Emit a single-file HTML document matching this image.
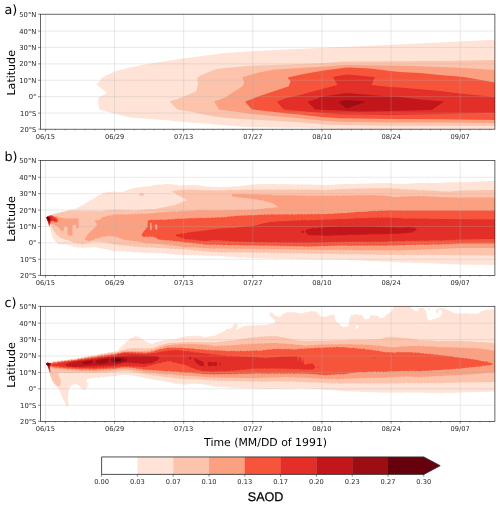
<!DOCTYPE html><html><head><meta charset="utf-8"><title>SAOD</title><style>html,body{margin:0;padding:0;background:#fff}svg{display:block;will-change:transform;opacity:0.999}text{text-rendering:geometricPrecision;font-family:"DejaVu Sans","Liberation Sans",sans-serif;fill:#262626}.t{font-size:6.7px}.lb{font-size:11.05px;fill:#000}.pl{font-size:12.8px;fill:#000}.ty{font-size:6.8px}</style></head><body>
<svg width="500" height="506" viewBox="0 0 500 506">
<rect width="500" height="506" fill="#fff"/>
<clipPath id="c0"><rect x="40.35" y="14.20" width="454.55" height="115.00"/></clipPath>
<g clip-path="url(#c0)">
<path d="M96.4 84.6L103.0 77.0L116.0 71.0L130.0 67.4L150.0 63.4L170.0 60.4L190.0 57.4L200.0 56.2L225.0 53.0L252.5 51.2L287.5 49.5L325.0 47.8L375.0 45.6L400.0 44.6L440.0 42.6L480.0 40.6L496.0 39.8L496.0 131.0L350.0 131.0L340.0 129.0L321.6 128.6L300.0 127.5L290.0 127.8L250.0 127.0L240.0 126.6L220.0 125.0L200.0 123.0L190.0 122.6L170.0 120.6L150.0 119.0L130.0 117.6L114.4 113.4L99.4 109.6L98.0 103.0L98.4 97.4L107.0 93.0Z" fill="#fee3d6"/>
<path d="M169.6 101.5L183.0 97.0L196.2 91.2L198.0 85.0L197.4 77.3L207.5 72.5L217.5 68.8L250.0 65.8L287.5 64.4L325.0 63.0L345.0 61.6L387.5 61.3L425.0 61.0L440.0 61.0L480.0 60.2L496.0 60.0L496.0 125.7L440.0 125.8L390.0 125.7L340.0 125.0L321.6 124.2L300.0 122.2L290.0 121.8L270.0 120.6L250.0 119.4L240.0 119.0L224.0 117.8L212.0 116.2L200.0 113.8L190.0 111.4L177.2 109.4Z" fill="#fcc4ad"/>
<path d="M214.2 101.6L225.0 97.5L242.5 86.2L244.3 82.0L242.2 77.3L258.8 72.5L275.0 69.5L300.0 68.0L325.0 66.5L345.0 64.9L387.5 65.4L412.5 66.0L440.0 67.0L460.0 67.8L480.0 69.0L496.0 70.0L496.0 123.0L440.0 122.6L390.0 122.4L340.0 121.8L321.6 120.6L300.0 118.2L290.0 117.4L270.0 115.8L250.0 113.8L240.0 112.2L218.8 109.4Z" fill="#fca082"/>
<path d="M245.0 101.8L258.8 96.2L288.8 86.2L290.5 81.2L287.5 77.5L305.0 73.8L325.0 70.3L345.0 67.8L350.0 67.5L370.0 68.6L390.0 71.0L400.0 72.0L420.0 73.0L440.0 75.0L464.0 77.0L496.0 82.6L496.0 120.0L440.0 119.2L390.0 119.1L360.0 118.4L340.0 118.2L321.6 117.0L300.0 114.6L290.0 113.8L270.0 111.4L252.0 109.4Z" fill="#f6553c"/>
<path d="M276.8 101.8L286.2 98.0L300.0 95.0L320.0 89.5L337.4 85.0L332.9 76.9L346.5 74.6L375.0 77.0L371.4 85.0L390.0 87.0L400.0 87.4L440.0 91.0L460.0 93.6L496.0 97.2L496.0 113.0L485.0 113.1L440.0 114.0L390.0 114.9L360.0 114.6L340.0 114.2L321.6 113.0L300.0 111.0L290.0 110.2L283.6 109.4Z" fill="#e32f27"/>
<path d="M307.6 101.8L317.5 98.8L320.0 97.1L340.0 94.0L346.0 93.0L370.0 95.0L390.0 96.5L400.0 97.0L420.0 99.4L444.0 101.6L432.0 109.7L420.0 110.2L390.0 111.0L360.0 111.4L340.0 110.6L315.2 109.4Z" fill="#c2161b"/>
<path d="M338.4 101.9L345.0 100.1L366.4 101.5L346.6 108.6Z" fill="#9d0d14"/>
</g>
<path d="M45.40 14.20V129.20M114.53 14.20V129.20M183.67 14.20V129.20M252.80 14.20V129.20M321.93 14.20V129.20M391.07 14.20V129.20M460.20 14.20V129.20M40.35 113.05H494.90M40.35 96.65H494.90M40.35 80.25H494.90M40.35 63.85H494.90M40.35 47.45H494.90M40.35 31.05H494.90" stroke="#b0b0b0" stroke-opacity="0.5" stroke-width="0.55" fill="none"/>
<path d="M45.40 129.20v2.3M114.53 129.20v2.3M183.67 129.20v2.3M252.80 129.20v2.3M321.93 129.20v2.3M391.07 129.20v2.3M460.20 129.20v2.3M40.35 129.20h-2.3M40.35 113.05h-2.3M40.35 96.65h-2.3M40.35 80.25h-2.3M40.35 63.85h-2.3M40.35 47.45h-2.3M40.35 31.05h-2.3M40.35 14.20h-2.3" stroke="#262626" stroke-width="0.55" fill="none"/>
<path d="M55.28 129.20v1.2M65.15 129.20v1.2M75.03 129.20v1.2M84.90 129.20v1.2M94.78 129.20v1.2M104.66 129.20v1.2M124.41 129.20v1.2M134.29 129.20v1.2M144.16 129.20v1.2M154.04 129.20v1.2M163.91 129.20v1.2M173.79 129.20v1.2M193.54 129.20v1.2M203.42 129.20v1.2M213.30 129.20v1.2M223.17 129.20v1.2M233.05 129.20v1.2M242.92 129.20v1.2M262.68 129.20v1.2M272.55 129.20v1.2M282.43 129.20v1.2M292.30 129.20v1.2M302.18 129.20v1.2M312.06 129.20v1.2M331.81 129.20v1.2M341.69 129.20v1.2M351.56 129.20v1.2M361.44 129.20v1.2M371.31 129.20v1.2M381.19 129.20v1.2M400.94 129.20v1.2M410.82 129.20v1.2M420.70 129.20v1.2M430.57 129.20v1.2M440.45 129.20v1.2M450.32 129.20v1.2M470.08 129.20v1.2M479.95 129.20v1.2M489.83 129.20v1.2" stroke="#262626" stroke-width="0.4" fill="none"/>
<rect x="40.35" y="14.20" width="454.55" height="115.00" fill="none" stroke="#262626" stroke-width="0.7"/>
<text class="ty" x="36.45" y="132.00" text-anchor="end">20°S</text>
<text class="ty" x="36.45" y="116.00" text-anchor="end">10°S</text>
<text class="ty" x="36.45" y="99.00" text-anchor="end">0°</text>
<text class="ty" x="36.45" y="83.00" text-anchor="end">10°N</text>
<text class="ty" x="36.45" y="66.00" text-anchor="end">20°N</text>
<text class="ty" x="36.45" y="50.00" text-anchor="end">30°N</text>
<text class="ty" x="36.45" y="34.00" text-anchor="end">40°N</text>
<text class="ty" x="36.45" y="17.00" text-anchor="end">50°N</text>
<text class="t" x="45.40" y="139.20" text-anchor="middle">06/15</text>
<text class="t" x="114.53" y="139.20" text-anchor="middle">06/29</text>
<text class="t" x="183.67" y="139.20" text-anchor="middle">07/13</text>
<text class="t" x="252.80" y="139.20" text-anchor="middle">07/27</text>
<text class="t" x="321.93" y="139.20" text-anchor="middle">08/10</text>
<text class="t" x="391.07" y="139.20" text-anchor="middle">08/24</text>
<text class="t" x="460.20" y="139.20" text-anchor="middle">09/07</text>
<text class="lb" transform="translate(15.30 72.80) rotate(-90)" text-anchor="middle">Latitude</text>
<text class="pl" x="4.4" y="14.40">a)</text>
<clipPath id="c1"><rect x="40.35" y="160.45" width="454.55" height="114.95"/></clipPath>
<g clip-path="url(#c1)">
<path d="M46.0 217.0L47.5 216.6L49.0 215.5L50.5 215.4L52.0 214.2L53.5 214.0L55.0 213.0L56.7 212.9L58.3 212.2L60.0 212.3L61.7 211.5L63.3 211.6L65.0 211.0L66.7 210.8L68.3 210.1L70.0 210.3L71.7 209.2L73.3 209.5L75.0 209.0L76.6 208.4L78.2 207.0L79.8 207.1L81.4 205.5L83.0 205.0L84.6 204.3L86.2 202.5L87.8 202.2L89.4 200.6L91.0 200.0L92.6 199.3L94.2 197.8L95.8 197.2L97.4 195.7L99.0 195.0L100.8 194.7L102.5 193.3L104.2 193.1L106.0 192.0L107.6 192.3L109.2 191.6L110.8 192.1L112.4 191.5L114.0 191.6L115.6 191.9L117.2 191.5L118.8 192.2L120.4 191.6L122.0 192.0L123.6 191.7L125.2 190.5L126.8 190.5L128.4 189.3L130.0 189.0L131.7 189.1L133.3 187.9L135.0 188.2L136.7 187.3L138.3 187.7L140.0 187.0L141.7 187.3L143.3 186.3L145.0 186.8L146.7 185.9L148.3 186.4L150.0 186.0L151.7 186.0L153.3 185.1L155.0 185.4L156.7 184.6L158.3 184.8L160.0 184.4L161.7 184.7L163.3 183.9L165.0 184.5L166.7 183.7L168.3 184.3L170.0 184.0L171.7 184.6L173.3 184.1L175.0 185.0L176.7 184.6L178.3 185.6L180.0 185.4L181.7 185.8L183.3 185.0L185.0 185.2L186.8 185.5L188.7 184.9L190.5 185.4L192.3 184.6L194.2 185.3L196.0 184.8L197.7 185.5L199.3 185.1L201.0 186.0L202.7 185.6L204.3 186.5L206.0 186.6L207.8 187.0L209.5 186.5L211.2 186.9L213.0 186.6L214.8 187.3L216.5 186.7L218.2 187.2L220.0 187.0L221.7 187.2L223.3 186.4L225.0 187.0L226.7 186.4L228.3 187.0L230.0 186.6L231.7 186.9L233.3 186.0L235.0 186.7L236.7 186.0L238.3 186.4L240.0 186.0L241.7 186.0L243.3 185.1L245.0 185.8L246.7 184.9L248.3 185.0L250.0 184.6L251.7 184.8L253.3 184.2L255.0 184.7L256.7 183.9L258.3 184.4L260.0 184.1L261.7 184.3L263.3 183.8L265.0 184.3L266.7 183.7L268.3 184.5L270.0 183.7L271.7 184.3L273.3 183.7L275.0 184.0L276.7 184.4L278.3 183.9L280.0 184.5L281.7 183.7L283.3 184.6L285.0 183.8L286.7 184.5L288.3 184.0L290.0 184.5L291.7 184.0L293.3 184.5L295.0 184.4L296.7 184.6L298.3 184.2L300.0 184.7L301.7 184.2L303.3 184.7L305.0 184.3L306.7 184.7L308.3 184.3L310.0 184.8L311.7 184.4L313.3 185.0L315.0 184.6L316.7 185.0L318.3 184.5L320.0 185.0L321.7 184.6L323.3 185.2L325.0 185.0L326.7 185.1L328.3 184.4L330.0 185.2L331.7 184.4L333.3 184.9L335.0 184.3L336.7 184.6L338.3 184.1L340.0 184.5L341.7 183.7L343.3 184.3L345.0 184.0L346.7 184.1L348.3 183.5L350.0 184.2L351.7 183.7L353.3 184.2L355.0 183.6L356.7 184.1L358.3 183.3L360.0 184.1L361.7 183.3L363.3 183.9L365.0 183.6L366.7 183.8L368.3 183.3L370.0 183.9L371.7 183.1L373.3 183.8L375.0 183.0L376.7 183.5L378.3 182.8L380.0 183.6L381.7 182.7L383.3 183.5L385.0 183.0L386.7 183.5L388.3 182.8L390.0 183.6L391.7 183.1L393.3 183.8L395.0 183.5L396.7 183.9L398.3 183.6L400.0 184.0L401.7 184.2L403.3 183.5L405.0 184.2L406.7 183.4L408.3 184.0L410.0 183.0L411.7 183.9L413.3 183.1L415.0 183.5L416.7 182.9L418.3 183.3L420.0 183.0L421.7 183.2L423.3 182.6L425.0 183.4L426.7 182.6L428.3 183.3L430.0 182.6L431.7 183.4L433.3 182.8L435.0 183.4L436.7 182.5L438.3 183.4L440.0 183.0L441.7 183.3L443.3 182.5L445.0 183.0L446.7 182.3L448.3 182.8L450.0 182.1L451.7 182.9L453.3 182.0L455.0 182.5L456.7 181.7L458.3 182.5L460.0 182.0L496.0 181.0L496.0 265.0L460.0 264.4L458.3 264.5L456.7 264.1L455.0 264.4L453.3 263.7L451.7 264.5L450.0 263.8L448.3 264.4L446.7 263.4L445.0 264.2L443.3 263.5L441.7 264.0L440.0 263.6L438.3 263.7L436.7 263.3L435.0 263.9L433.3 263.0L431.7 263.6L430.0 262.8L428.3 263.5L426.7 262.7L425.0 263.5L423.3 262.8L421.7 263.2L420.0 262.7L418.3 263.1L416.7 262.5L415.0 263.0L413.3 262.4L411.7 262.8L410.0 262.1L408.3 262.8L406.7 262.2L405.0 262.4L403.3 262.7L401.7 261.8L400.0 262.5L398.3 261.7L396.7 262.4L395.0 261.7L393.3 262.3L391.7 261.7L390.0 262.1L388.3 261.5L386.7 261.8L385.0 261.6L383.4 261.9L381.8 261.2L380.2 261.7L378.6 260.9L377.0 261.6L375.4 260.9L373.8 261.4L372.2 260.7L370.6 261.4L369.0 260.7L367.4 261.1L365.8 260.5L364.2 260.9L362.6 260.2L361.0 260.8L359.4 260.1L357.8 260.8L356.2 259.9L354.6 260.5L353.0 259.8L351.4 260.4L349.8 259.7L348.2 260.3L346.6 259.6L345.0 259.8L343.4 260.1L341.8 259.4L340.2 260.2L338.6 259.3L337.0 260.1L335.4 259.2L333.8 259.9L332.2 259.3L330.6 260.0L329.0 259.1L327.4 259.7L325.8 259.3L324.2 259.8L322.6 259.3L321.0 259.7L319.4 259.2L317.8 259.8L316.2 259.0L314.6 259.8L313.0 259.1L311.4 259.7L309.8 258.9L308.2 259.5L306.6 258.8L305.0 259.2L303.4 259.6L301.8 258.9L300.2 259.6L298.6 258.8L297.0 259.4L295.4 258.5L293.8 259.4L292.1 258.7L290.5 259.2L288.9 258.6L287.3 259.1L285.7 258.6L284.1 259.0L282.5 258.4L280.9 258.9L279.3 258.3L277.7 259.0L276.1 258.5L274.5 258.9L272.9 258.2L271.2 258.8L269.6 258.3L268.0 258.9L266.4 258.0L264.8 258.9L263.2 258.2L261.6 258.6L260.0 258.3L258.3 258.4L256.7 257.7L255.0 258.3L253.3 257.8L251.7 258.2L250.0 257.4L248.3 258.2L246.7 257.5L245.0 257.8L243.3 257.1L241.7 257.8L240.0 257.4L238.3 257.7L236.7 257.0L235.0 257.2L233.3 256.5L231.7 257.1L230.0 256.5L228.3 257.0L226.7 256.0L225.0 256.7L223.3 256.0L221.7 256.5L220.0 255.9L218.3 256.1L216.6 255.4L214.9 256.2L213.1 255.6L211.4 256.2L209.7 255.4L208.0 255.8L206.3 256.0L204.6 255.5L202.9 256.0L201.1 255.3L199.4 255.7L197.7 255.2L196.0 255.4L194.3 255.5L192.6 255.1L190.9 255.5L189.1 254.9L187.4 255.5L185.7 254.8L184.0 255.0L182.3 255.2L180.6 254.6L178.9 254.9L177.1 254.4L175.4 254.7L173.7 254.1L172.0 254.2L170.3 254.5L168.6 253.6L166.9 254.0L165.1 253.3L163.4 253.9L161.7 253.1L160.0 253.2L158.3 253.6L156.6 252.8L154.9 253.4L153.1 252.7L151.4 253.3L149.7 252.7L148.0 253.0L146.3 253.3L144.6 252.3L142.9 252.9L141.1 252.1L139.4 252.8L137.7 252.0L136.0 252.2L134.3 252.4L132.6 251.8L130.9 252.1L129.1 251.7L127.4 252.0L125.7 251.3L124.0 251.6L122.4 251.7L120.8 251.1L119.2 251.4L117.6 250.6L116.0 251.4L114.4 250.8L112.5 250.9L110.6 249.9L108.8 250.1L106.9 249.3L105.0 249.2L103.3 249.1L101.7 248.3L100.0 248.4L98.3 247.5L96.7 247.8L95.0 247.0L93.3 247.6L91.6 247.0L89.9 247.7L88.1 247.1L86.4 248.0L84.7 247.6L83.0 248.0L81.4 248.0L79.8 247.3L78.2 247.7L76.6 246.9L75.0 247.0L73.3 246.7L71.7 245.7L70.0 245.7L68.3 244.8L66.7 244.7L65.0 244.0L63.0 244.4L61.0 244.1L59.0 244.4L57.7 243.4L56.3 241.9L55.0 241.0L52.0 236.0L50.0 228.0L47.5 221.0Z" fill="#fee3d6"/>
<path d="M46.5 217.0L48.2 216.6L49.9 215.5L51.6 215.5L53.3 214.2L55.0 214.0L56.6 214.0L58.2 212.8L59.8 213.2L61.4 212.1L63.0 212.0L64.6 211.9L66.2 210.9L67.8 211.2L69.4 210.3L71.0 210.4L72.8 210.8L74.5 210.4L76.2 211.1L78.0 210.3L79.8 211.1L81.5 210.5L83.2 211.3L85.0 211.0L86.6 211.2L88.2 210.7L89.8 211.3L91.4 210.6L93.0 211.4L94.6 210.6L96.2 211.3L97.8 210.6L99.4 211.4L101.0 211.0L102.8 211.2L104.5 210.4L106.2 210.6L108.0 210.1L109.8 210.4L111.5 209.8L113.2 210.2L115.0 209.6L116.7 210.0L118.3 209.4L120.0 210.2L121.7 209.5L123.3 210.2L125.0 209.8L126.7 210.5L128.3 209.7L130.0 210.5L131.7 209.9L133.3 210.7L135.0 210.4L136.7 210.5L138.3 209.8L140.0 210.3L141.7 209.7L143.3 210.1L145.0 209.3L146.7 209.8L148.3 209.1L150.0 209.8L151.7 208.9L153.3 209.4L155.0 209.0L156.7 209.0L158.3 208.0L160.0 208.4L161.7 207.3L163.3 207.7L165.0 206.8L166.7 206.9L168.3 206.1L170.0 206.4L171.7 205.4L173.3 205.7L175.0 205.0L176.5 204.5L178.0 203.6L179.5 203.4L181.0 202.1L182.5 202.3L184.0 200.9L185.5 200.9L187.0 200.0L185.5 199.5L184.1 198.1L182.6 197.9L181.2 196.5L179.7 196.4L178.3 194.9L176.8 194.7L175.4 193.0L173.9 192.8L172.5 191.5L171.0 191.0L172.8 191.2L174.5 190.2L176.2 190.8L178.0 190.1L179.8 190.4L181.5 189.5L183.2 190.0L185.0 189.6L186.7 190.0L188.3 189.5L190.0 190.0L191.7 189.3L193.3 190.0L195.0 189.4L196.7 190.2L198.3 189.4L200.0 190.3L201.7 189.7L203.3 190.4L205.0 190.0L206.7 190.4L208.3 190.0L210.0 190.4L211.7 189.9L213.3 190.6L215.0 190.4L216.7 190.6L218.3 190.1L220.0 190.6L221.7 190.0L223.3 190.7L225.0 190.0L226.7 190.6L228.3 189.7L230.0 190.3L231.7 189.6L233.3 190.4L235.0 190.0L236.7 190.4L238.3 189.7L240.0 190.2L241.7 189.6L243.3 190.3L245.0 189.5L246.7 190.0L248.3 189.4L250.0 189.9L251.7 189.5L253.3 189.8L255.0 189.6L256.7 190.0L258.3 189.3L260.0 190.1L261.7 189.4L263.3 189.8L265.0 189.3L266.7 189.8L268.3 189.3L270.0 190.1L271.7 189.2L273.3 190.0L275.0 189.6L276.7 190.0L278.3 189.1L280.0 190.1L281.7 189.3L283.3 190.0L285.0 189.4L286.7 190.0L288.3 189.3L290.0 190.0L291.7 189.2L293.3 189.9L295.0 189.4L296.7 190.1L298.3 189.4L300.0 189.9L301.7 189.3L303.3 189.9L305.0 189.6L306.7 190.0L308.3 189.2L310.0 189.9L311.7 189.4L313.3 190.0L315.0 189.5L316.7 190.1L318.3 189.7L320.0 190.1L321.7 189.7L323.3 190.4L325.0 190.0L326.7 190.2L328.3 189.6L330.0 190.2L331.7 189.2L333.3 189.9L335.0 189.3L336.7 189.6L338.3 189.1L340.0 189.5L341.7 189.0L343.3 189.3L345.0 189.0L346.7 189.2L348.3 188.6L350.0 189.3L351.7 188.4L353.3 189.0L355.0 188.4L356.7 189.0L358.3 188.3L360.0 188.8L361.7 188.3L363.3 188.7L365.0 188.4L366.7 188.8L368.3 188.1L370.0 188.6L371.7 187.9L373.3 188.7L375.0 188.0L376.7 188.4L378.3 187.9L380.0 188.4L381.7 187.8L383.3 188.5L385.0 188.0L386.7 188.5L388.3 187.8L390.0 188.5L391.7 188.3L393.3 188.9L395.0 188.2L396.7 189.1L398.3 188.5L400.0 189.0L401.7 189.2L403.3 188.9L405.0 189.7L406.7 188.9L408.3 189.9L410.0 189.0L411.7 189.8L413.3 189.5L415.0 190.0L416.7 189.5L418.3 190.3L420.0 190.0L421.7 190.5L423.3 189.8L425.0 190.6L426.7 189.9L428.3 190.7L430.0 190.2L431.7 190.8L433.3 190.3L435.0 191.0L436.7 190.4L438.3 191.3L440.0 191.0L441.7 191.4L443.3 191.0L445.0 191.5L446.7 191.0L448.3 191.9L450.0 191.6L451.7 191.6L453.3 191.0L455.0 191.3L456.7 190.5L458.3 190.9L460.0 190.4L496.0 190.0L496.0 255.6L440.0 255.0L438.3 255.2L436.7 254.6L435.0 255.2L433.3 254.7L431.7 255.3L430.0 254.5L428.3 255.4L426.7 254.6L425.0 255.3L423.3 254.8L421.7 255.2L420.0 254.5L418.3 255.4L416.7 254.7L415.0 255.2L413.3 254.7L411.7 255.4L410.0 254.7L408.3 255.2L406.7 254.6L405.0 255.0L403.3 255.4L401.7 254.7L400.0 255.1L398.3 254.7L396.7 255.2L395.0 254.5L393.3 255.1L391.7 254.5L390.0 255.2L388.3 254.5L386.7 255.0L385.0 254.8L383.4 255.2L381.8 254.5L380.2 255.2L378.6 254.5L377.0 254.9L375.4 254.3L373.8 254.9L372.2 254.1L370.6 254.9L369.0 254.3L367.4 254.8L365.8 254.2L364.2 254.9L362.6 254.0L361.0 254.6L359.4 254.1L357.8 254.6L356.2 253.9L354.6 254.5L353.0 254.1L351.4 254.5L349.8 254.0L348.2 254.7L346.6 253.8L345.0 254.2L343.4 254.6L341.8 253.7L340.2 254.6L338.6 253.8L337.0 254.3L335.4 253.5L333.8 254.4L332.2 253.8L330.6 254.3L329.0 253.6L327.4 254.1L325.8 253.5L324.2 254.0L322.6 253.6L321.0 254.0L319.4 253.4L317.8 254.1L316.2 253.4L314.6 254.1L313.0 253.3L311.4 253.8L309.8 253.1L308.2 253.9L306.6 253.1L305.0 253.4L303.4 253.6L301.8 253.0L300.2 253.6L298.6 252.8L297.0 253.5L295.4 253.0L293.8 253.7L292.2 253.0L290.6 253.5L289.0 252.7L287.4 253.5L285.8 252.9L284.2 253.3L282.6 252.9L281.0 253.5L279.4 252.8L277.8 253.4L276.2 252.5L274.6 253.2L273.0 252.7L271.4 253.4L269.8 252.5L268.2 253.1L266.6 252.4L265.0 252.8L263.3 253.0L261.7 252.5L260.0 252.9L258.3 252.3L256.7 253.1L255.0 252.3L253.3 253.1L251.7 252.4L250.0 252.8L248.3 252.2L246.7 253.0L245.0 252.0L243.3 252.7L241.7 252.2L240.0 252.4L238.3 252.7L236.7 252.1L235.0 252.9L233.3 252.2L231.7 252.8L230.0 252.0L228.3 252.8L226.7 252.0L225.0 252.8L223.3 252.1L221.7 252.7L220.0 252.4L218.3 252.6L216.6 251.8L214.9 252.2L213.1 251.7L211.4 252.2L209.7 251.5L208.0 251.6L206.3 251.6L204.6 251.1L202.9 251.4L201.1 250.7L199.4 251.2L197.7 250.1L196.0 250.4L194.3 250.7L192.6 249.9L190.9 250.2L189.1 249.6L187.4 250.0L185.7 249.2L184.0 249.4L182.3 249.6L180.6 249.1L178.9 249.5L177.1 248.8L175.4 249.5L173.7 248.7L172.0 249.0L170.3 249.3L168.6 248.3L166.9 248.8L165.1 248.0L163.4 248.5L161.7 247.8L160.0 248.0L158.3 248.2L156.6 247.4L154.9 248.0L153.1 247.4L151.4 247.8L149.7 247.3L148.0 247.4L146.3 247.8L144.6 246.9L142.9 247.4L141.1 246.8L139.4 247.4L137.7 246.6L136.0 246.8L134.3 246.9L132.6 246.0L130.9 246.7L129.1 245.6L127.4 246.1L125.7 245.5L124.0 245.6L122.4 245.8L120.8 244.7L119.2 245.4L117.6 244.6L116.0 244.8L114.4 244.3L112.7 244.2L111.1 243.4L109.4 243.8L107.7 242.6L106.0 243.1L104.3 242.0L102.7 242.4L101.0 241.6L99.3 242.0L97.7 241.5L96.0 242.2L94.3 241.4L92.7 242.1L91.0 242.0L89.4 242.8L87.8 242.6L86.2 243.7L84.6 243.6L83.0 244.4L81.4 244.3L79.8 243.6L78.2 243.8L76.6 242.9L75.0 243.0L73.4 242.8L71.8 241.6L70.2 241.4L68.6 240.3L67.0 240.0L65.0 239.7L63.0 238.4L61.0 238.0L59.7 237.3L58.3 235.8L57.0 235.0L56.0 234.2L55.0 232.2L54.0 231.4L53.0 230.0L50.0 223.0L48.0 220.0Z" fill="#fcc4ad"/>
<path d="M139.0 193.5L141.5 192.9L144.0 193.7L144.0 195.5L141.5 196.1L139.4 195.5Z" fill="#fcc4ad"/>
<path d="M47.0 216.0L48.7 215.9L50.3 215.2L52.0 215.2L54.0 216.0L56.0 215.8L58.0 216.6L60.0 217.4L62.0 217.6L64.0 218.4L65.6 218.8L67.2 218.1L68.8 218.7L70.4 218.1L72.0 218.9L73.6 218.1L75.2 218.7L76.8 218.1L78.4 218.4L78.4 228.5L76.5 228.5L76.0 224.5L74.2 225.0L72.5 225.0L72.5 235.5L70.8 235.9L69.2 235.0L67.5 235.5L67.5 227.0L65.0 226.0L63.0 231.5L61.5 231.0L60.4 230.0L59.2 228.3L58.1 227.6L57.0 226.0L55.2 225.5L53.5 224.3L51.8 224.2L50.0 223.0L48.0 220.0Z" fill="#fca082"/>
<path d="M84.6 239.6L88.0 234.0L89.2 233.0L90.5 231.1L91.8 230.5L93.0 229.0L94.3 228.1L95.7 226.0L97.0 225.0L94.6 220.0L96.8 220.2L99.0 220.0L100.3 219.2L101.7 217.7L103.0 217.0L104.7 217.0L106.4 215.8L108.1 216.1L109.9 215.2L111.6 215.4L113.3 214.5L115.0 214.4L116.7 214.6L118.3 214.1L120.0 214.7L121.7 213.9L123.3 214.6L125.0 214.4L126.7 214.7L128.3 213.8L130.0 214.7L131.7 213.9L133.3 214.3L135.0 213.5L136.7 214.4L138.3 213.6L140.0 214.0L141.7 213.3L143.3 214.0L145.0 213.6L146.7 213.9L148.3 213.0L150.0 213.6L151.7 212.9L153.3 213.3L155.0 212.6L156.7 213.0L158.3 212.1L160.0 212.8L161.7 212.0L163.3 212.4L165.0 212.0L166.7 212.2L168.3 211.5L170.0 212.0L171.7 211.5L173.3 211.8L175.0 211.1L176.7 211.9L178.3 211.2L180.0 211.6L181.7 210.8L183.3 211.3L185.0 211.0L186.7 211.3L188.3 210.6L190.0 211.1L191.7 210.3L193.3 210.9L195.0 210.2L196.7 210.7L198.3 210.0L200.0 210.5L201.7 209.8L203.3 210.4L205.0 210.0L206.7 210.4L208.3 210.0L210.0 210.6L211.7 210.0L213.3 210.6L215.0 210.4L216.7 210.8L218.3 209.9L220.0 210.6L221.7 210.0L223.3 210.5L225.0 210.0L226.7 210.4L228.3 209.8L230.0 210.3L231.7 209.8L233.3 210.4L235.0 210.0L236.7 210.1L238.3 209.6L240.0 210.1L241.7 209.5L243.3 210.2L245.0 209.5L246.7 209.9L248.3 209.4L250.0 210.0L251.7 209.2L253.3 209.8L255.0 209.6L256.7 209.8L258.4 208.7L260.1 209.4L261.7 208.4L263.4 208.9L265.1 208.0L266.8 208.6L268.5 207.6L270.2 208.4L271.9 207.5L273.5 208.0L275.2 206.9L276.9 207.4L278.6 207.0L277.2 206.5L275.7 205.0L274.3 204.8L272.9 203.4L271.4 203.2L270.0 202.2L268.3 202.3L266.7 201.3L265.0 201.4L263.3 200.3L261.7 200.6L260.0 200.0L258.3 200.0L256.7 199.2L255.0 199.6L253.3 198.9L251.7 199.1L250.0 198.6L248.3 198.6L246.7 197.7L245.0 198.4L243.3 197.4L241.7 197.8L240.0 197.4L238.2 197.6L236.3 196.7L234.4 197.0L232.6 196.4L231.5 195.2L232.4 194.1L234.0 194.5L235.6 193.8L237.2 194.6L238.9 193.8L240.5 194.5L242.1 193.7L243.7 194.3L245.3 193.7L246.9 194.5L248.5 193.9L250.2 194.6L251.8 193.9L253.4 194.7L255.0 194.2L256.7 194.6L258.3 194.1L260.0 194.8L261.7 194.2L263.3 194.7L265.0 194.2L266.7 194.8L268.3 194.3L270.0 195.0L271.7 194.5L273.3 195.4L275.0 195.0L276.7 195.4L278.3 194.7L280.0 195.4L281.7 195.0L283.3 195.3L285.0 195.0L286.7 195.6L288.3 195.0L290.0 195.6L291.7 194.9L293.3 195.6L295.0 195.2L296.7 195.8L298.3 195.3L300.0 195.7L301.7 195.3L303.3 195.8L305.0 195.6L306.6 195.9L308.2 195.4L309.8 195.9L311.4 195.3L313.0 195.8L314.6 195.2L316.2 195.9L317.8 195.4L319.4 196.1L321.0 195.4L322.6 195.8L324.2 195.4L325.8 196.0L327.4 195.2L329.0 196.0L330.6 195.3L332.2 195.8L333.8 195.4L335.4 196.0L337.0 195.3L338.6 195.9L340.2 195.2L341.8 195.9L343.4 195.1L345.0 195.6L346.7 195.9L348.3 195.3L350.0 195.9L351.7 195.2L353.3 195.7L355.0 195.0L356.7 195.5L358.3 195.0L360.0 195.6L361.7 194.9L363.3 195.4L365.0 195.0L366.7 195.5L368.3 194.9L370.0 195.4L371.7 194.8L373.3 195.6L375.0 194.9L376.7 195.8L378.3 195.2L380.0 195.7L381.7 195.2L383.3 195.7L385.0 195.6L386.7 196.3L388.3 195.7L390.0 196.7L391.7 196.4L393.3 197.2L395.0 197.0L396.7 197.3L398.3 196.5L400.0 197.1L401.7 196.3L403.3 196.7L405.0 196.4L406.7 196.5L408.3 196.1L410.0 196.4L411.7 196.0L413.3 196.6L415.0 195.8L416.7 196.5L418.3 195.7L420.0 196.0L421.7 196.3L423.3 195.8L425.0 196.5L426.7 195.9L428.3 196.7L430.0 196.3L431.7 196.9L433.3 196.2L435.0 197.0L436.7 196.4L438.3 197.1L440.0 197.0L441.7 197.3L443.3 196.9L445.0 197.5L446.7 196.7L448.3 197.6L450.0 197.0L451.7 197.8L453.3 197.1L455.0 197.7L456.7 197.0L458.3 197.9L460.0 197.6L496.0 197.6L496.0 248.0L460.0 248.0L458.3 248.5L456.7 247.8L455.0 248.7L453.3 248.0L451.7 248.8L450.0 248.1L448.3 249.0L446.7 248.4L445.0 249.1L443.3 248.5L441.7 249.2L440.0 249.0L438.4 249.3L436.8 248.8L435.2 249.4L433.6 248.8L432.0 249.5L430.4 249.2L428.8 249.6L427.2 249.0L425.6 249.8L424.0 249.4L422.4 249.8L420.8 249.5L419.2 250.1L417.6 249.4L416.0 250.2L414.4 249.5L412.8 250.1L411.2 249.7L409.6 250.3L408.0 249.7L406.4 250.6L404.8 249.8L403.2 250.5L401.6 249.9L400.0 250.4L398.4 250.8L396.8 249.9L395.1 250.6L393.5 250.1L391.9 250.5L390.3 250.2L388.7 250.7L387.1 249.9L385.4 250.7L383.8 249.9L382.2 250.6L380.6 250.0L379.0 250.4L377.4 250.0L375.7 250.6L374.1 250.0L372.5 250.5L370.9 249.9L369.3 250.3L367.6 249.9L366.0 250.4L364.4 249.8L362.8 250.4L361.2 249.9L359.6 250.6L357.9 249.8L356.3 250.5L354.7 249.7L353.1 250.2L351.5 249.8L349.9 250.3L348.2 249.6L346.6 250.3L345.0 250.0L343.4 250.4L341.8 249.6L340.2 250.2L338.6 249.5L337.0 250.1L335.4 249.5L333.8 250.1L332.2 249.7L330.6 250.1L329.0 249.4L327.4 250.3L325.8 249.6L324.2 250.1L322.6 249.5L321.0 250.2L319.4 249.5L317.8 250.0L316.2 249.4L314.6 250.1L313.0 249.4L311.4 250.1L309.8 249.4L308.2 249.9L306.6 249.2L305.0 249.6L303.4 249.9L301.8 249.4L300.2 249.9L298.6 249.3L297.0 249.9L295.4 249.1L293.8 249.8L292.2 249.0L290.6 249.7L289.0 249.1L287.4 249.6L285.8 248.9L284.2 249.5L282.6 248.8L281.0 249.4L279.4 249.0L277.8 249.4L276.2 248.7L274.6 249.5L273.0 248.8L271.4 249.5L269.8 248.8L268.2 249.4L266.6 248.7L265.0 249.0L263.4 249.4L261.8 248.6L260.2 249.3L258.5 248.7L256.9 249.2L255.3 248.7L253.7 249.3L252.1 248.5L250.5 249.2L248.9 248.6L247.3 249.1L245.6 248.4L244.0 249.1L242.4 248.5L240.8 249.0L239.2 248.2L237.6 248.9L236.0 248.4L234.4 248.9L232.7 248.2L231.1 249.0L229.5 248.4L227.9 248.8L226.3 248.3L224.7 248.8L223.1 248.2L221.5 248.7L219.8 248.2L218.2 248.7L216.6 247.9L215.0 248.4L213.3 248.7L211.7 248.1L210.0 248.7L208.3 247.9L206.7 248.3L205.0 248.0L203.3 248.4L201.7 247.4L200.0 248.1L198.3 247.4L196.7 247.8L195.0 247.1L193.3 247.6L191.7 247.1L190.0 247.5L188.3 247.0L186.7 247.4L185.0 247.0L183.3 247.2L181.7 246.2L180.0 246.7L178.3 245.8L176.7 246.2L175.0 245.5L173.3 245.8L171.7 245.0L170.0 245.4L168.3 244.4L166.7 244.9L165.0 244.4L163.3 244.6L161.7 243.8L160.0 244.3L158.3 243.7L156.7 244.2L155.0 243.3L153.3 244.0L151.7 243.1L150.0 243.8L148.3 242.9L146.7 243.5L145.0 243.0L143.3 243.0L141.7 242.1L140.0 242.4L138.3 241.5L136.7 241.6L135.0 241.0L133.3 241.2L131.7 240.3L130.0 240.9L128.3 240.1L126.7 240.5L125.0 240.0L123.3 239.7L121.7 238.5L120.0 238.6L118.3 237.4L116.7 237.6L115.0 236.6L113.4 236.7L111.8 236.0L110.2 236.6L108.6 235.8L107.0 236.0L105.4 236.7L103.8 236.3L102.2 237.4L100.6 237.3L99.0 238.0L97.3 238.7L95.7 238.6L94.0 240.0L92.3 239.7L90.7 240.7L89.0 241.0L86.8 240.6Z" fill="#fca082"/>
<path d="M148.0 220.0L149.7 220.3L151.4 219.5L153.1 220.2L154.8 219.5L156.5 220.2L158.2 219.4L159.9 220.0L161.6 219.2L163.3 219.9L165.0 219.6L166.7 219.9L168.3 219.1L170.0 219.7L171.7 219.0L173.3 219.6L175.0 218.7L176.7 219.1L178.3 218.6L180.0 219.0L181.7 218.4L183.3 218.8L185.0 218.4L186.7 218.7L188.3 217.9L190.0 218.6L191.7 218.0L193.3 218.5L195.0 217.8L196.7 218.6L198.3 217.8L200.0 218.3L201.7 217.7L203.3 218.3L205.0 218.0L206.7 218.1L208.3 217.6L210.0 218.2L211.7 217.2L213.3 217.9L215.0 217.2L216.7 217.8L218.3 217.1L220.0 217.7L221.7 216.9L223.3 217.4L225.0 217.0L226.7 217.3L228.3 216.2L230.0 216.8L231.7 216.1L233.3 216.5L235.0 216.0L236.7 216.1L238.3 215.4L240.0 216.0L241.7 215.2L243.3 215.8L245.0 215.2L246.7 215.7L248.3 215.0L250.0 215.5L251.7 215.0L253.3 215.5L255.0 215.0L256.7 215.2L258.3 214.7L260.0 215.1L261.7 214.5L263.3 215.0L265.0 214.3L266.7 215.0L268.3 214.3L270.0 215.0L271.7 214.1L273.3 214.6L275.0 214.4L276.7 214.8L278.3 214.0L280.0 214.8L281.7 214.2L283.3 214.8L285.0 214.0L286.7 214.6L288.3 214.2L290.0 214.9L291.7 214.0L293.3 214.6L295.0 214.4L296.7 214.6L298.3 214.1L300.0 214.6L301.7 213.9L303.3 214.6L305.0 214.1L306.7 214.7L308.3 213.8L310.0 214.4L311.7 213.7L313.3 214.5L315.0 213.7L316.7 214.5L318.3 213.6L320.0 214.5L321.7 213.6L323.3 214.2L325.0 214.0L326.7 214.3L328.3 213.5L330.0 214.1L331.7 213.4L333.3 214.0L335.0 213.2L336.7 213.7L338.3 213.1L340.0 213.5L341.7 212.8L343.3 213.3L345.0 213.0L346.7 213.2L348.3 212.6L350.0 213.0L351.7 212.2L353.3 212.7L355.0 211.9L356.7 212.3L358.3 211.6L360.0 212.3L361.7 211.5L363.3 212.1L365.0 211.6L366.7 211.9L368.3 211.1L370.0 211.6L371.7 210.7L373.3 211.3L375.0 210.6L376.7 211.3L378.3 210.6L380.0 211.1L381.7 210.2L383.3 211.0L385.0 210.4L386.7 210.7L388.3 209.9L390.0 210.7L391.7 210.1L393.3 210.8L395.0 210.2L396.7 210.8L398.3 210.0L400.0 210.7L401.7 210.0L403.3 210.7L405.0 210.4L496.0 210.4L496.0 243.6L460.0 243.6L458.3 244.0L456.7 243.4L455.0 244.2L453.3 243.6L451.7 244.2L450.0 243.7L448.3 244.4L446.7 243.7L445.0 244.5L443.3 243.8L441.7 244.6L440.0 244.4L438.3 244.7L436.7 244.2L435.0 244.8L433.3 244.0L431.7 244.9L430.0 244.2L428.3 244.9L426.7 244.4L425.0 244.9L423.3 244.3L421.7 245.1L420.0 244.3L418.3 244.9L416.7 244.4L415.0 245.3L413.3 244.5L411.7 245.1L410.0 244.7L408.3 245.1L406.7 244.8L405.0 245.0L403.3 245.5L401.7 244.7L400.0 245.5L398.3 244.8L396.7 245.7L395.0 244.9L393.3 245.7L391.7 245.0L390.0 245.8L388.3 245.1L386.7 245.9L385.0 245.6L383.4 245.8L381.8 245.2L380.2 245.9L378.6 245.2L377.0 245.8L375.4 245.4L373.8 245.8L372.2 245.2L370.6 246.1L369.0 245.2L367.4 245.9L365.8 245.2L364.2 246.0L362.6 245.3L361.0 245.8L359.4 245.3L357.8 245.9L356.2 245.3L354.6 245.9L353.0 245.2L351.4 246.1L349.8 245.4L348.2 245.9L346.6 245.4L345.0 245.6L343.4 245.8L341.8 245.2L340.2 246.0L338.6 245.3L337.0 246.1L335.4 245.6L333.8 246.1L332.2 245.5L330.6 246.3L329.0 245.4L327.4 246.3L325.8 245.7L324.2 246.2L322.6 245.7L321.0 246.3L319.4 245.9L317.8 246.3L316.2 246.0L314.6 246.6L313.0 246.0L311.4 246.7L309.8 246.1L308.2 246.8L306.6 246.2L305.0 246.4L303.4 246.5L301.8 245.9L300.2 246.5L298.6 245.9L297.0 246.5L295.4 246.0L293.8 246.6L292.2 245.8L290.6 246.5L289.0 245.7L287.4 246.2L285.8 245.7L284.2 246.4L282.6 245.6L281.0 246.4L279.4 245.6L277.8 246.3L276.2 245.4L274.6 246.0L273.0 245.6L271.4 246.1L269.8 245.3L268.2 245.8L266.6 245.4L265.0 245.6L263.4 246.0L261.8 245.3L260.2 246.0L258.6 245.2L257.0 245.7L255.4 245.2L253.8 245.8L252.2 245.1L250.6 245.8L249.0 245.2L247.4 245.8L245.8 245.0L244.2 245.7L242.6 244.9L241.0 245.5L239.4 244.9L237.8 245.6L236.2 244.7L234.6 245.6L233.0 244.8L231.4 245.3L229.8 244.9L228.2 245.5L226.6 244.6L225.0 245.0L223.3 245.4L221.7 244.6L220.0 245.2L218.3 244.3L216.7 245.2L215.0 244.3L213.3 244.9L211.7 244.3L210.0 245.0L208.3 244.2L206.7 244.8L205.0 244.4L203.3 244.6L201.7 243.6L200.0 244.3L198.3 243.5L196.7 243.7L195.0 243.2L193.3 243.5L191.7 242.7L190.0 243.3L188.3 242.3L186.7 242.7L185.0 242.4L183.3 242.6L181.7 241.5L180.0 242.1L178.3 241.1L176.7 241.5L175.0 241.0L173.4 241.3L171.8 240.3L170.2 241.0L168.6 240.0L167.0 240.6L165.4 240.0L163.8 240.4L162.2 239.5L160.6 240.0L159.0 239.6L157.5 239.2L156.0 237.5L154.5 237.4L153.0 236.4L151.3 236.9L149.7 236.2L148.0 237.0L146.3 236.6L144.7 237.1L143.0 237.0L141.4 234.4L142.6 233.3L143.8 231.0L145.0 230.3L146.2 228.3L147.4 227.0Z" fill="#f6553c"/>
<path d="M150.0 223.0L151.6 223.0L151.8 230.0L150.2 230.0Z" fill="#fca082"/>
<path d="M155.0 224.4L157.2 224.4L157.4 229.6L155.4 229.6Z" fill="#fca082"/>
<path d="M174.0 235.0L175.8 235.1L177.7 233.9L179.5 234.2L181.3 233.3L183.2 233.8L185.0 233.0L186.7 233.2L188.3 232.2L190.0 232.6L191.7 231.7L193.3 232.1L195.0 231.6L196.7 231.6L198.3 231.0L200.0 231.4L201.7 230.5L203.3 230.9L205.0 230.4L206.7 230.5L208.3 229.6L210.0 229.9L211.7 229.3L213.3 229.7L215.0 229.0L216.7 229.2L218.3 228.6L220.0 229.0L221.7 228.1L223.3 228.6L225.0 227.9L226.7 228.5L228.3 227.7L230.0 228.1L231.7 227.7L233.3 228.2L235.0 227.6L236.6 227.9L238.2 227.0L239.8 227.5L241.4 226.8L243.0 227.3L244.6 226.4L246.2 227.0L247.8 226.0L249.4 226.7L251.0 225.7L252.6 226.0L254.4 225.8L256.1 225.0L257.9 224.9L259.7 224.1L261.5 224.0L263.2 223.3L265.0 223.0L266.7 223.1L268.3 222.1L270.0 222.6L271.7 221.6L273.3 222.3L275.0 221.6L276.7 221.7L278.3 221.0L280.0 221.6L281.7 221.0L283.3 221.6L285.0 220.8L286.7 221.2L288.3 220.4L290.0 221.2L291.7 220.2L293.3 220.8L295.0 220.4L296.7 220.7L298.3 220.1L300.0 220.8L301.7 219.8L303.3 220.5L305.0 220.0L306.7 220.4L308.3 219.9L310.0 220.5L311.7 219.6L313.3 220.5L315.0 220.0L316.7 220.1L318.3 219.5L320.0 220.2L321.7 219.4L323.3 220.1L325.0 219.6L326.7 219.7L328.3 219.3L330.0 219.9L331.7 218.9L333.3 219.7L335.0 219.0L336.7 219.6L338.3 218.8L340.0 219.3L341.7 218.8L343.3 219.3L345.0 219.0L346.7 219.1L348.3 218.5L350.0 219.0L351.7 218.4L353.3 218.8L355.0 218.1L356.7 218.6L358.3 217.9L360.0 218.5L361.7 218.0L363.3 218.5L365.0 218.0L366.7 218.2L368.3 217.5L370.0 218.3L371.7 217.4L373.3 218.0L375.0 217.5L376.7 218.0L378.3 217.3L380.0 218.1L381.7 217.3L383.3 217.9L385.0 217.6L386.7 217.9L388.3 217.3L390.0 218.1L391.7 217.5L393.3 218.1L395.0 217.8L396.7 218.2L398.3 217.7L400.0 218.5L401.7 218.1L403.3 218.8L405.0 218.4L406.7 218.7L408.3 218.2L410.0 218.7L411.7 218.3L413.3 219.0L415.0 218.3L416.7 218.8L418.3 218.3L420.0 218.9L421.7 218.2L423.3 218.9L425.0 218.3L426.7 218.9L428.3 218.4L430.0 219.2L431.7 218.6L433.3 219.2L435.0 218.7L436.7 219.2L438.3 218.7L440.0 219.0L496.0 219.6L496.0 239.0L460.0 239.6L458.3 239.9L456.7 239.3L455.0 240.3L453.3 239.4L451.7 240.1L450.0 239.7L448.3 240.5L446.7 240.0L445.0 240.6L443.3 240.0L441.7 240.8L440.0 240.4L438.3 240.6L436.7 240.0L435.0 240.8L433.3 240.3L431.7 240.7L430.0 240.1L428.3 240.9L426.7 240.4L425.0 241.0L423.3 240.2L421.7 240.9L420.0 240.4L418.3 241.0L416.7 240.6L415.0 241.2L413.3 240.5L411.7 241.1L410.0 240.7L408.3 241.1L406.7 240.6L405.0 241.0L403.3 241.4L401.7 240.9L400.0 241.4L398.3 240.8L396.7 241.6L395.0 240.9L393.3 241.7L391.7 241.2L390.0 241.6L388.3 241.1L386.7 241.8L385.0 241.6L383.4 242.0L381.8 241.5L380.2 242.1L378.6 241.4L377.0 242.1L375.4 241.3L373.8 242.0L372.2 241.6L370.6 242.2L369.0 241.4L367.4 242.2L365.8 241.5L364.2 242.0L362.6 241.4L361.0 242.1L359.4 241.6L357.8 242.2L356.2 241.5L354.6 242.1L353.0 241.6L351.4 242.2L349.8 241.6L348.2 242.2L346.6 241.6L345.0 242.0L343.4 242.5L341.8 241.6L340.2 242.4L338.6 241.8L337.0 242.5L335.4 241.8L333.8 242.5L332.2 241.9L330.6 242.8L329.0 242.1L327.4 242.8L325.8 242.2L324.2 242.9L322.6 242.4L321.0 243.1L319.4 242.4L317.8 242.9L316.2 242.5L314.6 243.0L313.0 242.4L311.4 243.0L309.8 242.7L308.2 243.3L306.6 242.7L305.0 243.0L303.4 243.1L301.8 242.6L300.2 243.3L298.6 242.6L297.0 243.3L295.4 242.7L293.8 243.3L292.2 242.4L290.6 243.0L289.0 242.6L287.4 243.1L285.8 242.4L284.2 242.9L282.6 242.5L281.0 242.9L279.4 242.4L277.8 242.9L276.2 242.1L274.6 242.8L273.0 242.2L271.4 242.9L269.8 242.3L268.2 242.9L266.6 242.0L265.0 242.4L263.3 242.6L261.7 242.0L260.0 242.7L258.3 241.9L256.7 242.5L255.0 241.7L253.3 242.5L251.7 241.8L250.0 242.2L248.3 241.7L246.7 242.2L245.0 241.4L243.3 242.2L241.7 241.3L240.0 242.2L238.3 241.3L236.7 241.8L235.0 241.6L233.3 241.8L231.7 240.9L230.0 241.7L228.3 240.8L226.7 241.2L225.0 240.4L223.3 240.9L221.7 240.2L220.0 240.6L218.3 240.0L216.7 240.5L215.0 240.0L213.3 240.3L211.7 240.1L210.0 241.0L208.3 240.3L206.7 241.3L205.0 241.0L203.3 241.2L201.7 240.2L200.0 240.9L198.3 239.9L196.7 240.3L195.0 239.6L193.3 240.1L191.7 239.3L190.0 239.7L188.3 239.0L186.7 239.6L185.0 239.0L183.4 238.8L181.9 237.6L180.3 237.6L178.7 236.4L177.1 236.6L175.6 235.3Z" fill="#e32f27"/>
<path d="M305.0 232.0L306.0 229.8L307.5 229.5L309.0 228.6L311.0 228.8L313.0 228.1L315.0 228.2L316.7 228.4L318.3 227.3L320.0 227.9L321.7 227.2L323.3 227.5L325.0 227.0L326.7 227.3L328.3 226.7L330.0 227.0L331.7 226.6L333.3 227.0L335.0 226.4L336.7 226.9L338.3 226.4L340.0 226.7L341.7 226.2L343.3 226.9L345.0 226.4L346.7 226.8L348.3 226.1L350.0 226.8L351.7 226.2L353.3 226.8L355.0 226.1L356.7 226.7L358.3 226.0L360.0 226.7L361.7 226.1L363.3 226.6L365.0 226.4L366.7 226.7L368.3 226.2L370.0 226.8L371.7 226.3L373.3 226.8L375.0 226.4L376.7 227.2L378.3 226.6L380.0 227.2L381.7 226.6L383.3 227.2L385.0 227.0L386.7 227.5L388.3 226.9L390.0 227.6L391.7 227.1L393.3 227.5L395.0 227.0L396.7 227.8L398.3 227.4L400.0 227.6L401.7 227.8L403.3 227.1L405.0 227.7L406.7 227.0L408.3 227.3L410.0 227.0L411.7 227.8L413.3 227.3L415.0 228.0L417.0 229.6L415.3 230.7L413.7 231.2L412.0 232.4L410.3 232.8L408.6 232.4L406.9 233.3L405.1 232.7L403.4 233.7L401.7 233.1L400.0 233.6L398.3 234.0L396.7 233.3L395.0 234.1L393.3 233.5L391.7 234.2L390.0 233.5L388.3 234.4L386.7 233.8L385.0 234.0L383.3 234.5L381.7 233.9L380.0 234.5L378.3 233.8L376.7 234.5L375.0 233.7L373.3 234.6L371.7 234.0L370.0 234.7L368.3 233.9L366.7 234.7L365.0 234.4L363.3 234.7L361.7 234.2L360.0 234.9L358.3 234.2L356.7 234.9L355.0 234.4L353.3 235.1L351.7 234.5L350.0 235.1L348.3 234.5L346.7 235.4L345.0 235.0L343.3 235.4L341.7 234.8L340.0 235.4L338.3 234.9L336.7 235.5L335.0 235.0L333.3 235.7L331.7 235.2L330.0 235.9L328.3 235.2L326.7 236.0L325.0 235.6L323.4 236.0L321.8 235.0L320.2 235.6L318.6 235.1L317.0 235.8L315.4 235.1L313.8 235.4L312.2 234.8L310.6 235.4L309.0 235.0L307.7 234.5L306.3 232.6Z" fill="#c2161b"/>
<path d="M301.2 231.8L302.0 230.6L303.4 230.6L304.2 231.8L303.4 233.0L302.0 233.0Z" fill="#c2161b"/>
<path d="M46.2 217.6L48.0 215.8L50.0 215.8L52.0 215.2L53.5 216.5L56.0 217.5L58.0 219.0L58.0 222.0L56.0 222.6L54.5 222.3L53.0 221.0L51.0 222.0L50.0 225.0L49.4 226.5L48.6 225.0L47.6 221.0Z" fill="#f6553c"/>
<path d="M46.3 217.6L48.0 216.2L49.8 216.2L51.5 215.6L53.0 217.0L55.0 218.0L56.5 219.5L56.5 221.5L54.0 221.0L51.5 220.5L50.0 222.0L49.6 225.0L48.8 224.0L47.6 220.8Z" fill="#e32f27"/>
<path d="M46.4 217.5L48.0 216.5L50.0 216.5L51.5 218.0L51.0 220.0L50.0 221.5L49.5 224.0L48.8 223.0L47.6 220.6Z" fill="#c2161b"/>
<path d="M46.4 217.4L48.0 216.8L49.6 217.5L50.2 219.0L49.8 221.0L49.2 222.5L48.4 221.5L47.4 220.0Z" fill="#9d0d14"/>
<path d="M46.5 217.4L48.0 217.0L49.3 218.0L49.6 219.5L49.2 221.0L48.4 220.8L47.4 219.6Z" fill="#67000d"/>
</g>
<path d="M45.40 160.45V275.40M114.53 160.45V275.40M183.67 160.45V275.40M252.80 160.45V275.40M321.93 160.45V275.40M391.07 160.45V275.40M460.20 160.45V275.40M40.35 259.25H494.90M40.35 242.85H494.90M40.35 226.45H494.90M40.35 210.05H494.90M40.35 193.65H494.90M40.35 177.25H494.90" stroke="#b0b0b0" stroke-opacity="0.5" stroke-width="0.55" fill="none"/>
<path d="M45.40 275.40v2.3M114.53 275.40v2.3M183.67 275.40v2.3M252.80 275.40v2.3M321.93 275.40v2.3M391.07 275.40v2.3M460.20 275.40v2.3M40.35 275.40h-2.3M40.35 259.25h-2.3M40.35 242.85h-2.3M40.35 226.45h-2.3M40.35 210.05h-2.3M40.35 193.65h-2.3M40.35 177.25h-2.3M40.35 160.45h-2.3" stroke="#262626" stroke-width="0.55" fill="none"/>
<path d="M55.28 275.40v1.2M65.15 275.40v1.2M75.03 275.40v1.2M84.90 275.40v1.2M94.78 275.40v1.2M104.66 275.40v1.2M124.41 275.40v1.2M134.29 275.40v1.2M144.16 275.40v1.2M154.04 275.40v1.2M163.91 275.40v1.2M173.79 275.40v1.2M193.54 275.40v1.2M203.42 275.40v1.2M213.30 275.40v1.2M223.17 275.40v1.2M233.05 275.40v1.2M242.92 275.40v1.2M262.68 275.40v1.2M272.55 275.40v1.2M282.43 275.40v1.2M292.30 275.40v1.2M302.18 275.40v1.2M312.06 275.40v1.2M331.81 275.40v1.2M341.69 275.40v1.2M351.56 275.40v1.2M361.44 275.40v1.2M371.31 275.40v1.2M381.19 275.40v1.2M400.94 275.40v1.2M410.82 275.40v1.2M420.70 275.40v1.2M430.57 275.40v1.2M440.45 275.40v1.2M450.32 275.40v1.2M470.08 275.40v1.2M479.95 275.40v1.2M489.83 275.40v1.2" stroke="#262626" stroke-width="0.4" fill="none"/>
<rect x="40.35" y="160.45" width="454.55" height="114.95" fill="none" stroke="#262626" stroke-width="0.7"/>
<text class="ty" x="36.45" y="278.00" text-anchor="end">20°S</text>
<text class="ty" x="36.45" y="262.00" text-anchor="end">10°S</text>
<text class="ty" x="36.45" y="245.00" text-anchor="end">0°</text>
<text class="ty" x="36.45" y="229.00" text-anchor="end">10°N</text>
<text class="ty" x="36.45" y="213.00" text-anchor="end">20°N</text>
<text class="ty" x="36.45" y="196.00" text-anchor="end">30°N</text>
<text class="ty" x="36.45" y="180.00" text-anchor="end">40°N</text>
<text class="ty" x="36.45" y="163.00" text-anchor="end">50°N</text>
<text class="t" x="45.40" y="285.40" text-anchor="middle">06/15</text>
<text class="t" x="114.53" y="285.40" text-anchor="middle">06/29</text>
<text class="t" x="183.67" y="285.40" text-anchor="middle">07/13</text>
<text class="t" x="252.80" y="285.40" text-anchor="middle">07/27</text>
<text class="t" x="321.93" y="285.40" text-anchor="middle">08/10</text>
<text class="t" x="391.07" y="285.40" text-anchor="middle">08/24</text>
<text class="t" x="460.20" y="285.40" text-anchor="middle">09/07</text>
<text class="lb" transform="translate(15.30 219.02) rotate(-90)" text-anchor="middle">Latitude</text>
<text class="pl" x="4.4" y="160.65">b)</text>
<clipPath id="c2"><rect x="40.35" y="306.30" width="454.55" height="115.05"/></clipPath>
<g clip-path="url(#c2)">
<path d="M46.0 363.4L47.8 363.2L49.6 362.1L51.4 362.2L53.2 361.2L55.0 361.0L56.7 361.2L58.3 360.4L60.0 361.0L61.7 360.0L63.3 360.5L65.0 360.0L66.7 360.0L68.3 359.3L70.0 359.6L71.7 358.7L73.3 359.2L75.0 358.6L76.7 358.7L78.3 357.5L80.0 357.9L81.7 357.0L83.3 357.3L85.0 356.6L86.7 356.8L88.3 355.8L90.0 356.1L91.7 355.1L93.3 355.5L95.0 355.0L96.7 354.9L98.3 353.9L100.0 354.4L101.7 353.3L103.3 353.5L105.0 353.0L107.0 353.1L109.0 352.0L111.0 352.0L113.0 352.1L115.0 350.9L117.0 351.0L118.3 350.1L119.7 348.0L121.0 347.0L122.2 346.0L123.4 344.3L124.6 343.7L125.8 341.9L127.0 341.0L128.3 340.2L129.7 338.8L131.0 338.0L133.0 337.7L135.0 336.3L137.0 336.0L138.5 337.2L140.0 337.3L141.5 339.1L143.0 339.6L144.6 340.7L146.2 341.1L147.8 342.7L149.4 342.9L151.0 344.0L153.0 343.7L155.0 342.5L157.0 342.0L158.6 341.9L160.2 340.8L161.8 341.1L163.4 340.0L165.0 340.0L166.7 340.1L168.3 339.3L170.0 339.8L171.7 339.1L173.3 339.5L175.0 339.0L176.7 338.9L178.3 337.7L180.0 338.0L181.7 337.0L183.3 337.0L185.0 336.4L186.7 336.5L188.3 335.7L190.0 336.2L191.7 335.7L193.3 335.9L195.0 335.6L196.7 336.2L198.3 335.6L200.0 336.7L201.7 336.1L203.3 336.9L205.0 337.0L206.6 337.0L208.2 336.2L209.8 336.7L211.4 335.8L213.0 336.0L214.6 335.7L216.2 334.7L217.8 334.3L219.7 333.6L221.5 332.2L223.4 331.5L224.8 331.0L226.2 329.3L227.6 328.7L230.4 328.7L231.8 327.6L233.2 325.9L234.6 323.5L237.4 323.5L237.7 327.5L236.0 328.4L237.0 330.0L238.6 328.7L240.1 328.3L241.5 327.0L243.0 326.6L244.8 326.4L246.5 325.5L248.2 325.9L250.0 325.2L251.8 325.7L253.5 324.9L255.2 325.6L257.0 325.2L258.8 325.4L260.5 324.9L262.2 325.4L264.0 324.9L265.8 325.1L267.5 324.1L269.2 324.5L271.0 323.8L273.1 323.5L275.2 322.4L274.5 319.6L272.8 318.5L271.0 316.8L269.9 315.8L268.9 314.0L270.3 312.3L272.4 312.9L273.9 314.8L275.4 315.8L277.5 316.6L279.6 316.8L281.1 316.2L282.5 314.4L284.0 313.5L285.8 313.0L287.5 311.9L289.4 312.4L291.4 311.9L293.3 312.5L295.2 312.3L297.1 313.2L298.9 312.9L300.8 313.7L302.7 313.6L304.5 312.5L306.4 312.3L308.3 312.1L310.1 311.3L312.0 311.2L314.1 311.6L316.2 311.5L317.2 313.2L318.3 314.0L319.7 315.7L321.1 316.8L322.7 317.0L324.4 316.4L326.0 316.5L328.1 315.9L330.2 314.7L332.3 314.8L334.4 314.3L335.1 319.6L336.1 321.3L337.2 322.4L339.5 323.5L341.0 325.9L342.6 326.8L344.2 327.3L346.3 326.8L348.4 325.9L349.5 318.2L351.2 315.1L353.1 315.3L354.9 314.3L356.8 314.3L358.7 314.9L360.5 314.8L362.4 315.4L364.5 318.9L366.6 319.2L368.7 318.9L370.8 315.1L372.6 315.5L374.3 315.2L376.1 315.9L377.8 315.7L379.2 317.2L380.6 318.2L383.4 317.5L384.8 316.5L386.2 314.8L387.6 314.0L389.4 313.1L391.1 311.9L393.2 307.7L394.0 305.0L395.8 305.2L397.5 304.6L399.3 305.2L401.0 304.7L402.8 305.4L404.5 304.6L406.3 305.2L408.0 304.7L409.8 305.0L410.4 307.0L411.6 308.6L412.8 309.1L414.0 310.5L415.8 311.2L417.5 311.0L419.6 307.7L421.3 307.9L423.0 307.7L424.5 309.6L426.0 310.5L427.3 318.2L428.4 319.8L429.4 320.7L431.5 320.0L433.6 318.9L435.5 318.7L437.3 317.8L439.2 317.5L440.6 316.1L442.0 314.0L442.0 311.2L440.0 309.0L438.5 310.5L437.5 314.0L435.7 312.0L436.7 309.0L438.6 308.6L440.6 307.7L442.5 308.6L444.3 308.3L446.2 309.1L448.1 310.3L449.9 310.8L451.8 312.0L453.9 313.0L456.0 313.3L458.1 313.5L460.2 313.3L462.3 313.7L464.3 313.1L466.4 313.3L468.3 313.8L470.1 313.2L472.0 313.7L473.9 314.0L475.7 313.5L477.6 314.0L479.0 313.3L480.4 311.8L481.8 311.2L483.9 310.8L486.0 309.8L496.0 309.5L496.0 391.6L460.0 392.4L458.3 392.7L456.7 392.2L455.0 392.7L453.3 392.4L451.7 393.0L450.0 392.4L448.3 393.1L446.7 392.5L445.0 393.1L443.3 392.5L441.7 393.2L440.0 392.9L438.3 393.1L436.7 392.7L435.0 393.1L433.3 392.6L431.7 393.0L430.0 392.4L428.3 393.0L426.7 392.4L425.0 393.1L423.3 392.3L421.7 393.1L420.0 392.2L418.3 392.8L416.7 392.3L415.0 392.7L413.3 392.1L411.7 392.9L410.0 392.2L408.3 392.7L406.7 392.1L405.0 392.4L403.3 392.8L401.7 392.2L400.0 392.9L398.3 392.2L396.7 392.8L395.0 392.3L393.3 392.7L391.7 392.1L390.0 392.9L388.3 392.2L386.7 392.8L385.0 392.6L383.3 392.7L381.7 392.3L380.0 392.7L378.3 392.1L376.7 392.6L375.0 392.1L373.3 392.5L371.7 391.8L370.0 392.4L368.3 391.7L366.7 392.4L365.0 392.0L363.3 392.3L361.7 391.6L360.0 392.0L358.3 391.3L356.7 391.9L355.0 391.3L353.3 391.8L351.7 390.9L350.0 391.5L348.3 391.0L346.7 391.5L345.0 391.0L343.3 391.2L341.7 390.6L340.0 390.9L338.3 390.3L336.7 390.8L335.0 390.1L333.3 390.6L331.7 389.7L330.0 390.1L328.3 389.5L326.7 390.0L325.0 389.6L323.3 389.9L321.7 389.0L320.0 389.5L318.3 389.0L316.7 389.6L315.0 388.7L313.3 389.4L311.7 388.4L310.0 389.1L308.3 388.2L306.7 388.9L305.0 388.4L303.3 388.7L301.7 388.2L300.0 388.8L298.3 388.1L296.7 388.7L295.0 388.4L293.4 388.9L291.8 388.3L290.1 388.9L288.5 388.4L286.9 389.0L285.2 388.2L283.6 388.9L282.0 388.4L280.4 389.2L278.8 388.4L277.1 389.1L275.5 388.6L273.9 389.1L272.2 388.7L270.6 389.3L269.0 389.0L267.4 389.2L265.8 388.7L264.2 389.1L262.6 388.5L261.0 389.2L259.4 388.5L257.8 389.0L256.2 388.4L254.6 388.9L253.0 388.1L251.4 388.8L249.8 388.3L248.2 388.9L246.6 388.2L245.0 388.4L243.2 388.6L241.5 387.9L239.8 388.5L238.0 387.7L236.2 388.3L234.5 387.6L232.8 388.1L231.0 387.6L229.4 387.8L227.8 387.1L226.2 387.6L224.6 386.7L223.0 387.2L221.4 386.6L219.8 387.0L218.2 386.4L216.6 386.7L215.0 386.4L213.3 386.3L211.7 385.5L210.0 385.8L208.3 384.8L206.7 384.9L205.0 384.4L203.3 384.5L201.7 383.8L200.0 384.3L198.3 383.7L196.7 383.9L195.0 383.6L193.3 383.9L191.7 383.4L190.0 384.4L188.3 383.9L186.7 384.7L185.0 384.4L183.3 384.7L181.7 383.8L180.0 384.2L178.3 383.6L176.7 384.0L175.0 383.6L173.3 383.4L171.7 382.4L170.0 382.5L168.3 381.4L166.7 381.8L165.0 381.0L163.3 381.2L161.7 380.2L160.0 380.9L158.3 380.1L156.7 380.4L155.0 380.0L153.3 379.9L151.7 379.2L150.0 379.4L148.3 378.2L146.7 378.6L145.0 378.0L143.3 377.9L141.7 377.0L140.0 377.4L138.3 376.2L136.7 376.5L135.0 376.0L133.3 376.2L131.7 375.1L130.0 375.7L128.3 374.8L126.7 375.1L125.0 374.6L123.3 375.3L121.7 374.8L120.0 375.6L118.3 375.2L116.7 376.0L115.0 376.0L113.3 376.6L111.7 376.1L110.0 376.6L108.3 376.3L106.7 377.1L105.0 376.5L103.3 377.5L101.7 376.8L100.0 377.4L98.4 378.0L96.8 377.3L95.2 378.0L93.6 377.6L92.0 378.2L90.4 378.0L88.6 378.9L86.8 379.2L86.2 381.0L88.0 383.4L87.4 387.0L85.9 388.7L84.4 390.0L82.0 388.8L80.8 387.7L79.6 385.8L77.8 384.9L76.0 383.6L74.4 384.6L72.8 384.6L71.2 385.8L69.0 389.0L68.0 397.0L68.6 406.6L67.0 407.0L63.0 399.0L59.0 389.0L57.7 387.9L56.3 386.2L55.0 385.0L54.0 384.0L53.0 382.1L52.0 381.0L50.0 373.0L47.0 366.0Z" fill="#fee3d6"/>
<path d="M213.1 309.2L213.9 309.2L213.9 310.0L213.1 310.0Z" fill="#fee3d6"/>
<path d="M355.6 326.4L357.2 325.1L359.0 325.3L358.4 327.6L356.6 328.8L355.2 328.4Z" fill="#ffffff"/>
<path d="M427.8 308.4L428.8 307.9L429.7 308.6L429.5 309.8L428.4 310.1L427.7 309.4Z" fill="#fee3d6"/>
<path d="M421.7 324.1L422.5 324.1L422.5 324.9L421.7 324.9Z" fill="#ffffff"/>
<path d="M46.4 363.8L48.1 363.8L49.8 362.8L51.6 362.9L53.3 361.6L55.0 361.6L56.7 361.8L58.3 360.9L60.0 361.3L61.7 360.5L63.3 361.0L65.0 360.5L66.7 360.5L68.3 359.7L70.0 360.1L71.7 359.1L73.3 359.7L75.0 359.0L76.7 359.1L78.3 358.1L80.0 358.3L81.7 357.4L83.3 357.7L85.0 357.0L86.7 357.0L88.3 356.3L90.0 356.4L91.7 355.7L93.3 356.1L95.0 355.5L96.7 355.7L98.3 354.4L100.0 355.0L101.7 353.8L103.3 354.4L105.0 353.6L106.7 353.7L108.4 352.7L110.1 353.1L111.9 352.3L113.6 352.8L115.3 352.0L117.0 352.0L119.0 351.7L121.0 350.2L123.0 350.0L125.0 349.8L127.0 348.7L129.0 348.6L131.0 348.7L133.0 347.9L135.0 348.0L136.7 348.5L138.3 348.0L140.0 348.4L141.7 347.9L143.3 348.6L145.0 348.4L146.6 348.5L148.2 347.9L149.8 348.4L151.4 347.7L153.0 348.0L154.6 347.7L156.2 346.5L157.8 346.5L159.4 345.3L161.0 345.0L162.6 344.8L164.2 344.0L165.8 344.2L167.4 343.1L169.0 343.0L170.6 343.1L172.2 342.4L173.8 342.9L175.4 342.4L177.0 342.8L178.6 342.2L180.2 342.6L181.8 341.9L183.4 342.3L185.0 342.0L186.7 342.3L188.3 341.8L190.0 342.3L191.7 341.7L193.3 342.2L195.0 341.7L196.7 342.2L198.3 341.7L200.0 342.4L201.7 341.7L203.3 342.4L205.0 342.0L206.7 342.5L208.3 341.9L210.0 342.7L211.7 341.9L213.3 342.5L215.0 342.4L216.7 342.6L218.3 341.7L220.0 342.0L221.7 341.1L223.3 341.7L225.0 340.8L226.7 341.2L228.3 340.4L230.0 340.8L231.7 340.2L233.3 340.5L235.0 340.0L236.7 339.9L238.3 339.1L240.0 339.5L241.7 338.7L243.3 339.1L245.0 338.2L246.7 338.7L248.3 337.6L250.0 338.2L251.7 337.2L253.3 337.7L255.0 337.0L256.7 337.4L258.3 336.6L260.0 337.1L261.7 336.4L263.3 337.0L265.0 336.1L266.7 336.8L268.3 336.1L270.0 336.5L271.7 335.8L273.3 336.5L275.0 336.0L276.7 336.6L278.3 336.3L280.0 337.1L281.7 336.7L283.3 337.5L285.0 337.4L286.7 338.3L288.3 338.1L290.0 339.2L291.7 338.8L293.3 339.8L295.0 340.0L296.7 340.4L298.3 340.0L300.0 340.9L301.7 340.3L303.3 341.0L305.0 341.0L306.7 341.1L308.3 340.7L310.0 341.3L311.7 340.6L313.3 341.2L315.0 340.5L316.7 341.1L318.3 340.5L320.0 340.9L321.7 340.2L323.3 341.0L325.0 340.6L326.7 340.9L328.3 340.1L330.0 340.9L331.7 340.2L333.3 340.6L335.0 340.1L336.7 340.6L338.3 339.8L340.0 340.6L341.7 339.9L343.3 340.3L345.0 340.0L346.7 340.4L348.3 339.6L350.0 340.2L351.7 339.6L353.3 340.0L355.0 339.4L356.7 340.1L358.3 339.3L360.0 340.1L361.7 339.5L363.3 339.9L365.0 339.6L366.6 339.8L368.2 339.0L369.8 339.8L371.4 339.2L373.0 339.5L374.6 339.0L376.2 339.5L377.8 338.8L379.4 339.3L381.0 339.0L383.0 338.6L385.0 337.5L387.0 337.0L388.6 337.3L390.2 336.7L391.8 337.2L393.4 336.7L395.0 337.0L396.7 337.7L398.3 337.2L400.0 337.6L401.7 337.9L403.3 337.5L405.0 338.2L406.7 337.9L408.3 338.6L410.0 338.4L411.7 338.9L413.3 338.6L415.0 339.5L416.7 339.0L418.3 340.2L420.0 340.0L421.7 340.3L423.3 339.8L425.0 340.7L426.7 339.9L428.3 340.8L430.0 340.1L431.7 340.9L433.3 340.4L435.0 341.0L436.7 340.4L438.3 341.4L440.0 341.0L441.7 341.5L443.3 340.6L445.0 341.3L446.7 340.6L448.3 341.4L450.0 340.7L451.7 341.4L453.3 340.7L455.0 341.3L456.7 340.7L458.3 341.2L460.0 341.0L461.7 341.4L463.3 340.9L465.0 341.7L466.7 341.0L468.3 341.7L470.0 341.3L471.7 341.8L473.3 341.4L475.0 342.0L476.7 341.7L478.3 342.4L480.0 342.0L496.0 343.0L496.0 382.0L460.0 382.5L458.3 382.8L456.7 382.3L455.0 383.0L453.3 382.4L451.7 382.9L450.0 382.6L448.3 383.0L446.7 382.6L445.0 383.3L443.3 382.6L441.7 383.4L440.0 383.0L438.3 383.3L436.7 382.6L435.0 383.4L433.3 382.9L431.7 383.3L430.0 382.7L428.3 383.5L426.7 382.8L425.0 383.5L423.3 382.8L421.7 383.5L420.0 382.9L418.3 383.4L416.7 382.7L415.0 383.4L413.3 382.9L411.7 383.3L410.0 383.0L408.3 383.4L406.7 382.8L405.0 383.2L403.3 383.4L401.7 382.9L400.0 383.5L398.3 382.9L396.7 383.7L395.0 382.9L393.3 383.5L391.7 382.9L390.0 383.8L388.3 383.0L386.7 383.6L385.0 383.4L383.4 383.8L381.8 383.0L380.2 383.7L378.6 383.2L377.0 383.6L375.4 383.1L373.8 383.9L372.1 383.1L370.5 383.9L368.9 383.2L367.3 383.7L365.7 383.0L364.1 383.8L362.5 383.2L360.9 383.8L359.3 383.2L357.7 383.6L356.1 383.2L354.5 383.6L352.9 383.1L351.2 383.7L349.6 383.2L348.0 383.8L346.4 383.2L344.8 383.8L343.2 383.3L341.6 384.0L340.0 383.5L338.3 383.8L336.7 382.9L335.0 383.5L333.3 382.9L331.7 383.6L330.0 382.8L328.3 383.2L326.7 382.8L325.0 383.1L323.3 382.4L321.7 383.0L320.0 382.3L318.3 382.9L316.7 382.2L315.0 382.5L313.3 382.8L311.7 382.0L310.0 382.7L308.3 381.9L306.7 382.4L305.0 381.7L303.3 382.3L301.7 381.6L300.0 382.3L298.3 381.4L296.7 382.0L295.0 381.3L293.3 382.1L291.7 381.3L290.0 381.5L288.3 381.8L286.7 381.2L285.0 382.0L283.3 381.3L281.7 381.7L280.0 381.2L278.3 381.9L276.7 381.1L275.0 381.8L273.3 381.1L271.7 381.8L270.0 381.2L268.3 381.8L266.7 381.4L265.0 381.8L263.3 381.4L261.7 381.9L260.0 381.2L258.3 381.8L256.7 381.1L255.0 381.6L253.4 381.8L251.8 381.3L250.2 381.7L248.6 381.0L247.0 381.8L245.4 381.1L243.8 381.4L242.2 380.8L240.6 381.4L239.0 380.6L237.4 381.4L235.8 380.7L234.2 381.2L232.6 380.5L231.0 381.2L229.4 380.6L227.8 381.2L226.2 380.5L224.6 381.1L223.0 380.5L221.4 381.0L219.8 380.3L218.2 380.9L216.6 380.3L215.0 380.4L213.3 380.6L211.7 379.8L210.0 380.5L208.3 379.4L206.7 380.1L205.0 379.6L203.3 379.8L201.7 379.3L200.0 379.7L198.3 379.1L196.7 379.6L195.0 379.1L193.3 379.7L191.7 378.8L190.0 379.4L188.3 378.6L186.7 379.3L185.0 379.0L183.3 379.2L181.7 378.5L180.0 378.9L178.3 377.9L176.7 378.4L175.0 378.0L173.3 378.2L171.7 377.2L170.0 377.8L168.3 377.1L166.7 377.5L165.0 377.0L163.3 377.2L161.7 376.3L160.0 376.6L158.3 375.6L156.7 376.1L155.0 375.2L153.3 375.7L151.7 374.8L150.0 375.2L148.3 374.2L146.7 374.7L145.0 374.0L143.3 374.2L141.7 373.3L140.0 373.7L138.3 372.5L136.7 373.0L135.0 372.3L133.3 372.4L131.7 371.5L130.0 371.9L128.3 371.0L126.7 371.5L125.0 371.0L123.3 371.6L121.7 371.1L120.0 371.7L118.3 371.3L116.7 372.0L115.0 372.0L113.3 372.4L111.7 371.7L110.0 372.6L108.3 371.9L106.7 372.9L105.0 372.3L103.3 372.8L101.7 372.3L100.0 373.1L98.3 372.7L96.7 373.2L95.0 373.0L93.3 373.2L91.7 372.7L90.0 373.2L88.3 372.8L86.7 373.5L85.0 373.0L83.2 373.3L81.5 372.6L79.8 373.2L78.0 372.7L76.2 373.2L74.5 372.7L72.8 373.2L71.0 373.0L69.2 373.4L67.4 372.8L65.6 373.4L63.8 372.7L62.0 373.0L59.0 373.0L58.0 375.0L59.8 377.4L61.0 381.0L59.8 386.4L58.0 386.4L56.2 385.1L54.4 383.4L52.0 379.8L50.2 375.0L48.0 367.0Z" fill="#fcc4ad"/>
<path d="M46.6 364.0L48.3 363.9L50.0 362.9L51.6 363.3L53.3 362.1L55.0 362.0L56.7 362.0L58.3 361.1L60.0 361.8L61.7 360.7L63.3 361.2L65.0 360.5L66.7 360.7L68.3 360.1L70.0 360.2L71.7 359.5L73.3 359.9L75.0 359.4L76.7 359.5L78.3 358.6L80.0 358.7L81.7 357.9L83.3 358.4L85.0 357.4L86.7 357.8L88.3 356.8L90.0 357.3L91.7 356.1L93.3 356.7L95.0 356.0L96.7 356.0L98.3 355.2L100.0 355.5L101.7 354.5L103.3 355.0L105.0 354.2L106.7 354.5L108.3 353.8L110.0 354.2L111.7 353.3L113.3 353.6L115.0 353.0L116.7 353.1L118.3 352.1L120.0 352.4L121.7 351.4L123.3 351.6L125.0 351.0L126.7 351.2L128.3 350.8L130.0 351.4L131.7 350.6L133.3 351.5L135.0 350.8L136.7 351.4L138.3 350.7L140.0 351.4L141.7 350.7L143.3 351.3L145.0 351.0L146.6 351.3L148.2 350.4L149.8 350.8L151.4 349.8L153.0 350.0L154.6 349.7L156.2 348.5L157.8 348.7L159.4 347.4L161.0 347.0L162.6 347.0L164.2 345.8L165.8 346.1L167.4 345.0L169.0 345.0L170.6 345.2L172.2 344.5L173.8 345.1L175.4 344.2L177.0 344.8L178.6 344.0L180.2 344.6L181.8 344.0L183.4 344.5L185.0 344.0L186.7 344.3L188.3 343.6L190.0 344.4L191.7 343.7L193.3 344.5L195.0 343.9L196.7 344.5L198.3 344.1L200.0 344.8L201.7 344.0L203.3 344.7L205.0 344.4L206.7 345.0L208.3 344.5L210.0 345.4L211.7 345.3L213.3 346.2L215.0 346.0L216.7 346.2L218.3 345.5L220.0 346.2L221.7 345.2L223.3 346.0L225.0 345.3L226.7 345.7L228.3 344.9L230.0 345.7L231.7 345.0L233.3 345.3L235.0 345.0L236.7 345.1L238.3 344.6L240.0 344.9L241.7 344.1L243.3 344.7L245.0 344.0L246.7 344.4L248.3 343.8L250.0 344.4L251.7 343.5L253.3 344.0L255.0 343.6L256.7 343.9L258.3 343.1L260.0 343.9L261.7 343.2L263.3 343.7L265.0 343.0L266.7 343.6L268.3 343.0L270.0 343.4L271.7 342.8L273.3 343.3L275.0 343.0L276.7 343.3L278.3 343.0L280.0 343.7L281.7 343.3L283.3 343.8L285.0 343.3L286.7 344.1L288.3 343.7L290.0 344.3L291.7 343.7L293.3 344.5L295.0 344.4L296.7 345.0L298.3 344.4L300.0 345.2L301.7 344.9L303.3 345.8L305.0 345.6L306.7 345.9L308.3 345.1L310.0 345.5L311.7 344.9L313.3 345.4L315.0 344.6L316.7 345.2L318.3 344.5L320.0 345.1L321.7 344.2L323.3 344.8L325.0 344.4L326.7 344.7L328.3 344.0L330.0 344.8L331.7 344.1L333.3 344.8L335.0 343.9L336.7 344.6L338.3 343.9L340.0 344.5L341.7 344.1L343.3 344.6L345.0 344.2L346.7 344.5L348.3 343.9L350.0 344.6L351.7 343.9L353.3 344.8L355.0 344.2L356.7 344.8L358.3 344.2L360.0 344.8L361.7 344.1L363.3 344.9L365.0 344.6L366.7 345.0L368.3 344.4L370.0 345.3L371.7 344.8L373.3 345.6L375.0 345.0L376.7 345.9L378.3 345.3L380.0 345.8L381.7 346.3L383.3 346.0L385.0 346.8L386.7 346.3L388.3 347.2L390.0 347.0L391.7 347.5L393.3 346.9L395.0 347.2L396.7 347.3L398.3 346.7L400.0 347.1L401.7 346.3L403.3 346.6L405.0 346.2L406.7 346.6L408.3 345.8L410.0 346.3L411.7 345.7L413.3 346.5L415.0 345.8L416.7 346.2L418.3 345.6L420.0 346.0L421.7 346.4L423.3 345.8L425.0 346.7L426.7 345.9L428.3 346.9L430.0 346.3L431.7 346.9L433.3 346.3L435.0 346.9L436.7 346.4L438.3 347.2L440.0 347.0L441.7 347.3L443.3 346.8L445.0 347.4L446.7 346.8L448.3 347.6L450.0 347.0L451.7 347.6L453.3 347.2L455.0 347.7L456.7 347.1L458.3 348.0L460.0 347.6L461.7 348.1L463.3 347.5L465.0 348.0L466.7 347.7L468.3 348.3L470.0 347.7L471.7 348.4L473.3 347.8L475.0 348.5L476.7 348.0L478.3 348.7L480.0 348.4L496.0 351.0L496.0 372.4L480.0 373.6L478.3 373.9L476.7 373.4L475.0 374.3L473.3 373.9L471.7 374.4L470.0 374.0L468.3 374.7L466.7 374.2L465.0 374.9L463.3 374.5L461.7 375.3L460.0 375.0L458.3 375.3L456.7 374.8L455.0 375.7L453.3 375.0L451.7 375.7L450.0 375.0L448.3 375.9L446.7 375.2L445.0 375.9L443.3 375.5L441.7 376.3L440.0 376.0L438.3 376.3L436.7 375.7L435.0 376.4L433.3 376.0L431.7 376.6L430.0 376.0L428.3 376.9L426.7 376.3L425.0 377.1L423.3 376.5L421.7 377.3L420.0 377.0L418.3 377.2L416.7 376.6L415.0 377.2L413.3 376.5L411.7 377.1L410.0 376.4L408.3 376.7L406.7 376.3L405.0 376.4L403.3 376.9L401.7 376.1L400.0 377.0L398.3 376.4L396.7 377.1L395.0 376.6L393.3 377.5L391.7 377.0L390.0 377.5L388.3 377.0L386.7 377.7L385.0 377.6L383.3 378.1L381.7 377.4L380.0 377.9L378.3 377.4L376.7 378.0L375.0 377.5L373.3 378.0L371.7 377.4L370.0 378.2L368.3 377.5L366.7 378.2L365.0 378.0L363.3 378.5L361.7 377.7L360.0 378.5L358.3 378.1L356.7 378.6L355.0 378.0L353.3 378.7L351.7 378.2L350.0 378.8L348.3 378.4L346.7 379.1L345.0 378.5L343.3 379.2L341.7 378.7L340.0 379.0L338.4 379.4L336.7 378.7L335.1 379.3L333.5 378.3L331.8 379.2L330.2 378.4L328.5 378.9L326.9 378.4L325.3 379.0L323.6 378.2L322.0 378.5L320.3 378.9L318.6 378.2L316.9 378.6L315.1 377.8L313.4 378.5L311.7 377.7L310.0 378.0L308.3 378.1L306.7 377.6L305.0 378.0L303.3 377.2L301.7 378.0L300.0 377.3L298.3 377.9L296.7 377.2L295.0 377.6L293.3 376.7L291.7 377.4L290.0 377.0L288.3 377.5L286.7 376.7L285.0 377.3L283.3 376.9L281.7 377.5L280.0 377.0L278.3 377.7L276.7 377.2L275.0 377.8L273.3 377.2L271.7 377.7L270.0 377.2L268.3 377.8L266.7 377.3L265.0 378.1L263.3 377.4L261.7 378.1L260.0 377.7L258.3 378.2L256.7 377.8L255.0 378.0L253.4 378.4L251.8 377.8L250.2 378.3L248.6 377.7L247.0 378.2L245.4 377.5L243.8 378.1L242.2 377.7L240.6 378.3L239.0 377.6L237.4 378.3L235.8 377.4L234.2 378.1L232.6 377.6L231.0 378.0L229.4 377.3L227.8 377.9L226.2 377.4L224.6 378.0L223.0 377.5L221.4 378.0L219.8 377.4L218.2 378.0L216.6 377.3L215.0 377.6L213.3 377.8L211.7 377.2L210.0 377.6L208.3 377.0L206.7 377.3L205.0 377.0L203.3 377.1L201.7 376.3L200.0 377.0L198.3 376.1L196.7 376.6L195.0 375.8L193.3 376.5L191.7 375.7L190.0 376.3L188.3 375.5L186.7 376.0L185.0 375.6L183.3 375.9L181.7 375.1L180.0 375.4L178.3 374.9L176.7 375.2L175.0 374.5L173.3 374.9L171.7 374.1L170.0 374.6L168.3 373.9L166.7 374.4L165.0 374.0L163.3 374.2L161.7 373.3L160.0 373.9L158.3 373.2L156.7 373.4L155.0 372.6L153.3 373.3L151.7 372.5L150.0 372.9L148.3 372.0L146.7 372.6L145.0 372.0L143.3 372.0L141.7 371.1L140.0 371.6L138.3 370.5L136.7 370.9L135.0 370.0L133.3 370.5L131.7 369.7L130.0 369.9L128.3 369.3L126.7 369.6L125.0 369.0L123.3 369.5L121.7 369.1L120.0 369.8L118.3 369.5L116.7 370.1L115.0 370.0L113.3 370.3L111.7 369.9L110.0 370.7L108.3 369.9L106.7 370.8L105.0 370.2L103.3 370.9L101.7 370.3L100.0 371.2L98.3 370.4L96.7 371.3L95.0 371.0L93.2 371.2L91.5 370.6L89.8 371.4L88.0 370.5L86.2 371.1L84.5 370.5L82.8 371.1L81.0 370.8L79.3 370.9L77.6 370.1L75.9 370.8L74.1 369.9L72.4 370.4L70.7 369.7L69.0 370.0L67.3 370.3L65.6 369.3L63.9 370.0L62.1 369.0L60.4 369.7L58.7 368.8L57.0 369.0L55.0 368.9L53.0 367.8L51.0 367.8L49.5 367.6L48.0 366.6Z" fill="#fca082"/>
<path d="M46.8 364.0L48.4 364.1L50.1 363.1L51.7 363.5L53.4 362.4L55.0 362.4L56.7 362.7L58.3 361.8L60.0 362.3L61.7 361.2L63.3 361.6L65.0 360.8L66.7 361.2L68.3 360.6L70.0 360.9L71.7 360.2L73.3 360.5L75.0 360.0L76.7 360.2L78.3 359.1L80.0 359.6L81.7 358.7L83.3 359.2L85.0 358.1L86.7 358.6L88.3 357.5L90.0 358.2L91.7 357.2L93.3 357.4L95.0 357.0L96.7 357.1L98.3 356.1L100.0 356.5L101.7 355.6L103.3 356.2L105.0 355.1L106.7 355.4L108.3 354.7L110.0 354.9L111.7 354.3L113.3 354.7L115.0 354.0L116.7 354.0L118.3 353.0L120.0 353.3L121.7 352.4L123.3 352.6L125.0 352.0L126.7 352.3L128.3 351.7L130.0 352.5L131.7 351.9L133.3 352.4L135.0 352.1L136.7 352.7L138.3 352.1L140.0 352.8L141.7 352.1L143.3 352.7L145.0 352.6L146.6 352.8L148.2 352.0L149.8 352.4L151.4 351.6L153.0 351.6L154.6 351.3L156.2 350.1L157.8 350.3L159.4 349.3L161.0 349.0L162.6 349.2L164.2 348.1L165.8 348.6L167.4 347.6L169.0 347.6L170.6 348.0L172.2 347.2L173.8 348.0L175.4 347.3L177.0 348.0L178.6 347.4L180.2 348.1L181.8 347.6L183.4 348.1L185.0 348.0L186.8 348.4L188.7 347.9L190.5 348.8L192.3 348.2L194.2 349.1L196.0 349.0L197.6 349.4L199.2 349.0L200.8 349.7L202.4 349.0L204.0 349.9L205.6 349.4L207.2 350.3L208.8 349.5L210.4 350.5L212.0 350.2L213.6 350.5L215.2 350.0L216.8 350.7L218.4 350.1L220.0 350.9L221.6 350.3L223.2 351.1L224.8 350.6L226.4 351.2L228.0 351.0L229.6 351.4L231.2 350.5L232.8 351.3L234.4 350.7L236.0 351.5L237.6 350.8L239.2 351.4L240.8 350.6L242.4 351.3L244.0 351.0L245.6 351.2L247.2 350.5L248.8 351.3L250.4 350.4L252.0 351.1L253.6 350.5L255.2 350.8L256.8 350.3L258.4 350.9L260.0 350.4L261.7 350.7L263.3 349.9L265.0 350.3L266.7 349.4L268.3 349.8L270.0 349.2L271.7 349.7L273.3 348.8L275.0 349.0L276.7 349.3L278.3 348.6L280.0 349.3L281.7 348.7L283.3 349.4L285.0 348.6L286.7 349.5L288.3 348.7L290.0 349.5L291.7 348.9L293.3 349.7L295.0 349.2L296.7 349.5L298.3 348.6L300.0 349.1L301.7 348.5L303.3 349.0L305.0 348.5L306.7 348.8L308.3 347.9L310.0 348.5L311.7 348.0L313.3 348.4L315.0 347.6L316.7 348.2L318.3 347.5L320.0 347.8L321.7 347.9L323.3 347.4L325.0 347.8L326.7 347.3L328.3 347.7L330.0 346.9L331.7 347.8L333.3 347.0L335.0 347.5L336.7 346.7L338.3 347.3L340.0 347.0L341.7 347.4L343.3 347.0L345.0 347.6L346.7 347.3L348.3 348.0L350.0 347.8L351.7 348.2L353.3 347.6L355.0 348.4L356.7 348.1L358.3 348.9L360.0 348.3L361.7 349.2L363.3 348.5L365.0 349.0L366.7 349.7L368.3 349.2L370.0 350.0L371.7 349.6L373.3 350.6L375.0 350.2L376.7 351.1L378.3 350.6L380.0 351.5L381.7 351.2L383.3 352.2L385.0 352.0L386.7 352.4L388.3 351.9L390.0 352.6L391.7 352.0L393.3 352.7L395.0 352.4L396.7 352.5L398.3 351.8L400.0 352.5L401.7 351.9L403.3 352.5L405.0 352.0L406.7 352.4L408.3 352.0L410.0 352.5L411.7 352.1L413.3 353.0L415.0 352.3L416.7 353.1L418.3 352.5L420.0 353.0L421.7 353.4L423.3 353.1L425.0 353.9L426.7 353.2L428.3 354.2L430.0 353.6L431.7 354.6L433.3 354.0L435.0 355.0L436.7 354.3L438.3 355.1L440.0 355.0L441.7 355.5L443.3 355.0L445.0 355.9L446.7 355.6L448.3 356.5L450.0 356.0L451.7 356.8L453.3 356.4L455.0 357.4L456.7 357.0L458.3 357.7L460.0 357.6L461.7 358.0L463.3 357.8L465.0 358.6L466.7 358.1L468.3 359.1L470.0 358.7L471.7 359.5L473.3 359.1L475.0 359.9L476.7 359.5L478.3 360.6L480.0 360.4L481.7 361.2L483.3 360.9L485.0 361.8L486.7 361.3L488.3 362.4L490.0 362.4L491.8 363.4L493.6 363.6L491.8 364.7L490.0 365.0L488.3 365.6L486.7 365.0L485.0 366.1L483.3 365.5L481.7 366.4L480.0 366.4L478.3 367.0L476.7 366.3L475.0 367.3L473.3 366.8L471.7 367.4L470.0 367.0L468.3 368.0L466.7 367.5L465.0 368.1L463.3 367.8L461.7 368.4L460.0 368.4L458.3 368.9L456.7 368.2L455.0 369.2L453.3 368.7L451.7 369.5L450.0 369.0L448.3 369.8L446.7 369.2L445.0 369.8L443.3 369.4L441.7 370.1L440.0 370.0L438.3 370.3L436.7 370.0L435.0 370.6L433.3 370.0L431.7 370.8L430.0 370.3L428.3 371.0L426.7 370.5L425.0 371.0L423.3 370.5L421.7 371.2L420.0 371.0L418.3 371.3L416.7 370.7L415.0 371.2L413.3 370.6L411.7 371.2L410.0 370.6L408.3 371.4L406.7 370.7L405.0 371.0L403.3 371.2L401.7 370.7L400.0 371.3L398.3 370.9L396.7 371.5L395.0 371.1L393.3 371.7L391.7 371.0L390.0 371.8L388.3 371.2L386.7 371.9L385.0 371.6L383.3 372.0L381.7 371.4L380.0 372.1L378.3 371.3L376.7 372.2L375.0 371.3L373.3 372.1L371.7 371.4L370.0 372.1L368.3 371.6L366.7 372.2L365.0 372.0L363.3 372.4L361.7 371.8L360.0 372.6L358.3 372.0L356.7 372.6L355.0 372.4L353.3 372.9L351.7 372.6L350.0 373.5L348.3 373.2L346.7 374.1L345.0 374.0L343.3 374.4L341.7 373.9L340.0 374.5L338.3 373.9L336.7 374.6L335.0 374.3L333.3 374.9L331.7 374.3L330.0 375.2L328.3 374.4L326.7 375.4L325.0 375.0L323.3 375.3L321.7 374.4L320.0 375.0L318.3 374.4L316.7 374.6L315.0 374.1L313.3 374.6L311.7 373.7L310.0 374.3L308.3 373.6L306.7 374.0L305.0 373.6L303.4 373.8L301.8 373.2L300.2 374.1L298.5 373.3L296.9 373.8L295.3 373.4L293.7 373.9L292.1 373.2L290.5 374.0L288.9 373.3L287.3 373.8L285.6 373.4L284.0 373.8L282.4 373.2L280.8 373.9L279.2 373.1L277.6 374.1L276.0 373.2L274.4 373.9L272.7 373.2L271.1 373.8L269.5 373.4L267.9 373.9L266.3 373.3L264.7 373.8L263.1 373.4L261.5 373.8L259.8 373.1L258.2 374.0L256.6 373.1L255.0 373.6L253.4 374.1L251.8 373.4L250.2 374.1L248.6 373.4L247.0 374.2L245.4 373.4L243.8 374.0L242.2 373.7L240.6 374.1L239.0 373.6L237.4 374.2L235.8 373.8L234.2 374.4L232.6 373.6L231.0 374.4L229.4 373.9L227.8 374.6L226.2 373.8L224.6 374.4L223.0 374.0L221.4 374.6L219.8 373.9L218.2 374.7L216.6 374.0L215.0 374.4L213.3 374.6L211.7 374.0L210.0 374.6L208.3 373.9L206.7 374.3L205.0 374.0L203.3 374.2L201.7 373.5L200.0 373.8L198.3 373.2L196.7 373.7L195.0 372.8L193.3 373.5L191.7 372.6L190.0 373.0L188.3 372.3L186.7 372.7L185.0 372.4L183.3 372.6L181.7 371.9L180.0 372.4L178.3 371.5L176.7 372.1L175.0 371.3L173.3 372.0L171.7 371.2L170.0 371.6L168.3 370.8L166.7 371.5L165.0 371.0L163.3 371.1L161.7 370.5L160.0 371.1L158.3 370.3L156.7 370.7L155.0 369.9L153.3 370.6L151.7 369.7L150.0 370.3L148.3 369.7L146.7 369.9L145.0 369.6L143.3 369.9L141.7 368.7L140.0 369.1L138.3 368.6L136.7 368.8L135.0 367.8L133.3 368.3L131.7 367.5L130.0 368.1L128.3 367.1L126.7 367.7L125.0 367.0L123.3 367.5L121.7 367.3L120.0 368.0L118.3 367.7L116.7 368.5L115.0 368.6L113.3 369.1L111.7 368.3L110.0 369.0L108.3 368.4L106.7 369.1L105.0 368.7L103.3 369.3L101.7 368.7L100.0 369.6L98.3 368.8L96.7 369.5L95.0 369.4L93.2 369.8L91.5 369.0L89.8 369.7L88.0 369.0L86.2 369.6L84.5 368.9L82.8 369.6L81.0 369.2L79.3 369.3L77.6 368.8L75.9 369.2L74.1 368.5L72.4 369.0L70.7 368.4L69.0 368.5L67.3 368.8L65.6 368.1L63.9 368.5L62.1 367.6L60.4 368.2L58.7 367.5L57.0 367.6L55.0 367.6L53.0 366.7L51.0 366.6L48.0 366.0Z" fill="#f6553c"/>
<path d="M52.0 364.2L53.7 364.2L55.3 363.5L57.0 363.9L58.7 362.8L60.3 363.1L62.0 362.6L63.6 362.5L65.2 361.7L66.9 362.3L68.5 361.2L70.1 361.5L71.8 360.8L73.4 361.1L75.0 360.6L76.7 360.8L78.3 360.0L80.0 360.3L81.7 359.3L83.3 359.9L85.0 359.1L86.7 359.3L88.3 358.7L90.0 359.0L91.7 358.1L93.3 358.5L95.0 358.0L96.7 358.1L98.3 357.2L100.0 357.6L101.7 356.6L103.3 357.2L105.0 356.1L106.7 356.7L108.3 355.5L110.0 356.2L111.7 355.1L113.3 355.4L115.0 355.0L116.7 355.0L118.3 353.9L120.0 354.3L121.7 353.2L123.3 353.6L125.0 353.0L126.7 353.5L128.3 352.9L130.0 353.6L131.7 353.1L133.3 353.7L135.0 353.2L136.7 353.8L138.3 353.5L140.0 354.1L141.7 353.4L143.3 354.3L145.0 354.0L146.7 354.3L148.3 353.3L150.0 353.9L151.7 352.9L153.3 353.6L155.0 353.0L156.7 352.9L158.3 352.1L160.0 352.3L161.7 351.5L163.3 351.6L165.0 351.0L166.7 351.3L168.3 350.2L170.0 350.8L171.7 349.9L173.3 350.6L175.0 350.0L176.7 350.6L178.3 349.9L180.0 350.8L181.7 350.5L183.3 351.3L185.0 351.0L186.8 351.5L188.7 351.1L190.5 351.9L192.3 351.5L194.2 352.6L196.0 352.3L197.6 352.7L199.2 352.4L200.8 353.2L202.4 352.7L204.0 353.7L205.6 353.1L207.2 354.1L208.8 353.4L210.4 354.5L212.0 354.2L213.6 354.5L215.2 354.3L216.8 354.9L218.4 354.4L220.0 355.2L221.6 354.9L223.2 355.7L224.8 355.0L226.4 355.9L228.0 355.8L229.6 356.2L231.2 355.6L232.8 356.4L234.4 355.7L236.0 356.6L237.6 356.0L239.2 356.6L240.8 356.3L242.4 356.9L244.0 356.6L245.6 356.9L247.2 356.5L248.8 357.3L250.4 356.6L252.0 357.3L253.6 356.7L255.2 357.5L256.8 356.9L258.4 357.6L260.0 357.4L261.7 357.8L263.3 357.6L265.0 358.0L266.7 358.0L268.3 357.5L270.0 357.8L271.7 357.3L273.3 357.7L275.0 356.7L276.7 357.4L278.3 356.7L280.0 357.2L281.7 356.4L283.3 356.7L285.0 356.4L286.7 356.7L288.3 356.1L290.0 356.8L291.7 356.1L293.3 356.8L295.0 356.4L297.0 356.0L298.0 362.0L299.0 357.0L300.5 356.6L301.5 363.0L303.0 358.0L304.0 364.0L305.0 364.4L306.6 364.4L308.2 363.6L309.8 364.2L311.4 363.3L313.0 363.6L314.2 365.5L315.4 367.0L314.2 368.7L313.0 369.6L311.4 369.8L309.8 369.2L308.2 370.0L306.6 369.2L305.0 369.6L303.3 369.7L301.7 369.2L300.0 369.5L298.3 368.8L296.7 369.3L295.0 369.0L293.3 369.3L291.7 368.6L290.0 369.2L288.3 368.6L286.7 369.0L285.0 368.5L283.3 369.1L281.7 368.3L280.0 368.9L278.3 368.2L276.7 368.7L275.0 368.4L273.3 368.6L271.7 368.2L270.0 368.8L268.3 368.2L266.7 368.9L265.0 368.1L263.3 368.8L261.7 368.2L260.0 368.8L258.3 368.2L256.7 368.7L255.0 368.4L253.2 368.9L251.3 368.6L249.5 369.2L247.7 368.8L245.8 369.7L244.0 369.6L242.4 370.0L240.8 369.5L239.2 370.3L237.6 369.9L236.0 370.5L234.4 370.2L232.8 370.9L231.2 370.4L229.6 371.2L228.0 371.0L226.4 371.5L224.8 370.9L223.2 371.5L221.6 370.7L220.0 371.4L218.4 371.1L216.8 371.6L215.2 371.1L213.6 371.7L212.0 371.4L210.4 371.7L208.8 371.1L207.2 371.5L205.6 370.9L204.0 371.2L202.0 370.9L200.0 370.0L198.0 369.8L196.0 369.5L194.0 368.4L192.0 368.0L190.5 367.4L189.0 366.2L187.5 366.1L186.0 365.0L184.0 365.1L182.0 363.9L180.0 363.8L178.0 363.6L176.0 362.8L174.0 362.6L172.2 362.1L170.4 360.8L168.7 361.5L167.0 361.1L165.4 362.3L163.7 361.8L162.0 362.6L160.0 363.2L158.0 362.9L156.0 363.8L154.4 364.6L152.9 364.5L151.3 365.4L149.7 365.2L148.1 366.3L146.6 366.4L145.0 367.0L143.3 367.2L141.7 366.4L140.0 367.1L138.3 366.3L136.7 366.8L135.0 366.2L133.3 366.7L131.7 366.1L130.0 366.6L128.3 365.9L126.7 366.3L125.0 366.0L123.3 366.6L121.7 366.0L120.0 366.7L118.3 366.5L116.7 367.2L115.0 367.0L113.3 367.4L111.7 367.0L110.0 367.6L108.3 366.9L106.7 367.7L105.0 367.3L103.3 367.9L101.7 367.3L100.0 368.1L98.3 367.6L96.7 368.3L95.0 368.0L93.2 368.4L91.5 367.6L89.8 368.4L88.0 367.6L86.2 368.3L84.5 367.6L82.8 368.1L81.0 367.8L79.3 368.1L77.6 367.2L75.9 367.7L74.1 367.2L72.4 367.5L70.7 367.0L69.0 367.2L67.2 367.2L65.5 366.6L63.8 367.0L62.0 366.4L60.3 366.6L58.7 365.6L57.0 366.2L55.3 365.4L53.7 365.7L52.0 365.4Z" fill="#e32f27"/>
<path d="M317.5 367.0L318.3 366.6L318.8 367.6L318.0 368.2Z" fill="#e32f27"/>
<path d="M374.2 357.2L375.0 357.0L375.2 358.0L374.4 358.2Z" fill="#e32f27"/>
<path d="M66.0 364.0L68.0 363.8L70.0 362.6L71.7 362.5L73.3 361.6L75.0 361.6L76.7 361.7L78.3 360.7L80.0 361.3L81.7 360.3L83.3 361.0L85.0 360.2L86.7 360.6L88.3 359.8L90.0 360.3L91.7 359.3L93.3 359.6L95.0 359.2L96.7 359.4L98.3 358.5L100.0 358.8L101.7 358.0L103.3 358.4L105.0 357.6L106.7 357.8L108.3 357.1L110.0 357.5L111.7 356.7L113.3 357.0L115.0 356.4L116.7 356.5L118.3 355.8L120.0 356.3L121.7 355.5L123.3 355.9L125.0 355.6L126.7 355.7L128.3 355.2L130.0 355.8L131.7 355.0L133.3 355.3L135.0 355.0L136.7 355.4L138.3 354.9L140.0 355.7L141.7 355.2L143.3 355.7L145.0 355.6L146.6 355.9L148.2 355.4L149.9 356.1L151.5 355.5L153.1 356.3L154.8 355.5L156.4 356.4L158.0 356.0L159.4 358.0L158.0 359.6L156.3 361.0L154.7 361.2L153.0 362.4L151.4 363.2L149.8 362.7L148.2 363.5L146.6 363.2L145.0 364.0L143.3 364.0L141.7 363.5L140.0 363.8L138.3 363.1L136.7 363.6L135.0 363.0L133.3 363.3L131.7 362.5L130.0 363.0L128.3 362.2L126.7 362.9L125.0 362.4L123.3 363.2L121.7 362.9L120.0 363.9L118.3 363.9L116.7 364.9L115.0 365.0L113.3 365.4L111.7 364.8L110.0 365.7L108.3 364.9L106.7 365.6L105.0 365.3L103.3 366.0L101.7 365.3L100.0 366.0L98.3 365.5L96.7 366.2L95.0 366.0L93.3 366.3L91.7 365.9L90.0 366.6L88.3 366.0L86.7 366.6L85.0 366.1L83.3 366.9L81.7 366.4L80.0 367.1L78.3 366.4L76.7 367.1L75.0 367.0L73.3 367.2L71.7 366.4L70.0 366.6L68.0 366.4L66.0 365.4Z" fill="#c2161b"/>
<path d="M189.4 356.4L190.6 356.0L191.2 358.5L190.4 360.0L189.4 359.0Z" fill="#c2161b"/>
<path d="M193.6 358.6L196.0 358.6L200.0 360.4L203.6 362.0L204.4 365.0L202.6 366.4L199.0 365.0L195.6 362.6Z" fill="#c2161b"/>
<path d="M207.6 362.6L210.0 361.6L213.0 362.4L216.0 361.4L217.4 363.6L216.4 365.8L214.7 366.1L213.0 365.6L210.0 366.4L208.0 365.4Z" fill="#c2161b"/>
<path d="M219.4 363.2L220.6 363.0L220.8 365.0L219.6 365.2Z" fill="#c2161b"/>
<path d="M215.4 363.4L216.4 363.2L216.6 365.0L215.6 365.2Z" fill="#c2161b"/>
<path d="M82.0 362.6L86.0 361.0L92.0 360.4L93.0 362.0L91.0 364.0L85.0 364.6L82.4 364.0Z" fill="#9d0d14"/>
<path d="M96.0 360.6L100.0 359.4L108.0 358.6L109.0 360.6L107.0 363.0L100.0 364.0L96.4 363.2Z" fill="#9d0d14"/>
<path d="M110.6 359.0L115.0 357.6L123.0 357.4L127.0 359.0L126.6 361.0L121.0 362.4L115.0 363.0L111.0 362.0Z" fill="#9d0d14"/>
<path d="M47.8 366.0L49.8 366.0L50.7 372.4L49.7 372.4Z" fill="#f6553c"/>
<path d="M48.0 366.0L49.5 366.0L50.1 370.5L49.5 370.5Z" fill="#e32f27"/>
<path d="M46.0 363.2L47.6 362.6L50.0 363.0L51.4 364.2L51.0 365.4L49.6 366.2L49.3 368.6L48.7 368.6L48.0 366.4L46.7 365.0Z" fill="#c2161b"/>
<path d="M46.1 363.3L47.6 362.8L49.6 363.2L50.2 364.6L49.2 365.9L48.7 367.0L48.0 366.0L46.8 364.9Z" fill="#9d0d14"/>
<path d="M46.2 363.4L47.6 363.0L49.2 363.4L49.6 364.6L48.8 365.5L47.4 365.3L46.6 364.6Z" fill="#67000d"/>
<path d="M114.0 359.4L117.0 358.6L121.0 359.0L121.4 360.6L118.0 361.4L114.6 361.2Z" fill="#67000d"/>
</g>
<path d="M45.40 306.30V421.35M114.53 306.30V421.35M183.67 306.30V421.35M252.80 306.30V421.35M321.93 306.30V421.35M391.07 306.30V421.35M460.20 306.30V421.35M40.35 405.20H494.90M40.35 388.80H494.90M40.35 372.40H494.90M40.35 356.00H494.90M40.35 339.60H494.90M40.35 323.20H494.90" stroke="#b0b0b0" stroke-opacity="0.5" stroke-width="0.55" fill="none"/>
<path d="M45.40 421.35v2.3M114.53 421.35v2.3M183.67 421.35v2.3M252.80 421.35v2.3M321.93 421.35v2.3M391.07 421.35v2.3M460.20 421.35v2.3M40.35 421.35h-2.3M40.35 405.20h-2.3M40.35 388.80h-2.3M40.35 372.40h-2.3M40.35 356.00h-2.3M40.35 339.60h-2.3M40.35 323.20h-2.3M40.35 306.30h-2.3" stroke="#262626" stroke-width="0.55" fill="none"/>
<path d="M55.28 421.35v1.2M65.15 421.35v1.2M75.03 421.35v1.2M84.90 421.35v1.2M94.78 421.35v1.2M104.66 421.35v1.2M124.41 421.35v1.2M134.29 421.35v1.2M144.16 421.35v1.2M154.04 421.35v1.2M163.91 421.35v1.2M173.79 421.35v1.2M193.54 421.35v1.2M203.42 421.35v1.2M213.30 421.35v1.2M223.17 421.35v1.2M233.05 421.35v1.2M242.92 421.35v1.2M262.68 421.35v1.2M272.55 421.35v1.2M282.43 421.35v1.2M292.30 421.35v1.2M302.18 421.35v1.2M312.06 421.35v1.2M331.81 421.35v1.2M341.69 421.35v1.2M351.56 421.35v1.2M361.44 421.35v1.2M371.31 421.35v1.2M381.19 421.35v1.2M400.94 421.35v1.2M410.82 421.35v1.2M420.70 421.35v1.2M430.57 421.35v1.2M440.45 421.35v1.2M450.32 421.35v1.2M470.08 421.35v1.2M479.95 421.35v1.2M489.83 421.35v1.2" stroke="#262626" stroke-width="0.4" fill="none"/>
<rect x="40.35" y="306.30" width="454.55" height="115.05" fill="none" stroke="#262626" stroke-width="0.7"/>
<text class="ty" x="36.45" y="424.00" text-anchor="end">20°S</text>
<text class="ty" x="36.45" y="408.00" text-anchor="end">10°S</text>
<text class="ty" x="36.45" y="391.00" text-anchor="end">0°</text>
<text class="ty" x="36.45" y="375.00" text-anchor="end">10°N</text>
<text class="ty" x="36.45" y="358.00" text-anchor="end">20°N</text>
<text class="ty" x="36.45" y="342.00" text-anchor="end">30°N</text>
<text class="ty" x="36.45" y="326.00" text-anchor="end">40°N</text>
<text class="ty" x="36.45" y="309.00" text-anchor="end">50°N</text>
<text class="t" x="45.40" y="431.35" text-anchor="middle">06/15</text>
<text class="t" x="114.53" y="431.35" text-anchor="middle">06/29</text>
<text class="t" x="183.67" y="431.35" text-anchor="middle">07/13</text>
<text class="t" x="252.80" y="431.35" text-anchor="middle">07/27</text>
<text class="t" x="321.93" y="431.35" text-anchor="middle">08/10</text>
<text class="t" x="391.07" y="431.35" text-anchor="middle">08/24</text>
<text class="t" x="460.20" y="431.35" text-anchor="middle">09/07</text>
<text class="lb" transform="translate(15.30 364.93) rotate(-90)" text-anchor="middle">Latitude</text>
<text class="pl" x="4.4" y="306.50">c)</text>
<text class="lb" x="265.6" y="446.3" text-anchor="middle" style="font-size:10.9px">Time (MM/DD of 1991)</text>
<rect x="101.60" y="456.95" width="36.10" height="17.45" fill="#ffffff"/>
<rect x="137.40" y="456.95" width="36.10" height="17.45" fill="#fee3d6"/>
<rect x="173.20" y="456.95" width="36.10" height="17.45" fill="#fcc4ad"/>
<rect x="209.00" y="456.95" width="36.10" height="17.45" fill="#fca082"/>
<rect x="244.80" y="456.95" width="36.10" height="17.45" fill="#f6553c"/>
<rect x="280.60" y="456.95" width="36.10" height="17.45" fill="#e32f27"/>
<rect x="316.40" y="456.95" width="36.10" height="17.45" fill="#c2161b"/>
<rect x="352.20" y="456.95" width="36.10" height="17.45" fill="#9d0d14"/>
<rect x="388.00" y="456.95" width="35.80" height="17.45" fill="#67000d"/>
<path d="M422.30 456.95L423.80 456.95L440.20 465.67L423.80 474.40L422.30 474.40Z" fill="#67000d"/>
<path d="M101.60 456.95H423.80L440.20 465.67L423.80 474.40H101.60Z" fill="none" stroke="#303030" stroke-width="0.85" stroke-linejoin="miter"/>
<text class="t" x="101.60" y="484.40" text-anchor="middle">0.00</text>
<text class="t" x="137.40" y="484.40" text-anchor="middle">0.03</text>
<text class="t" x="173.20" y="484.40" text-anchor="middle">0.07</text>
<text class="t" x="209.00" y="484.40" text-anchor="middle">0.10</text>
<text class="t" x="244.80" y="484.40" text-anchor="middle">0.13</text>
<text class="t" x="280.60" y="484.40" text-anchor="middle">0.17</text>
<text class="t" x="316.40" y="484.40" text-anchor="middle">0.20</text>
<text class="t" x="352.20" y="484.40" text-anchor="middle">0.23</text>
<text class="t" x="388.00" y="484.40" text-anchor="middle">0.27</text>
<text class="t" x="423.80" y="484.40" text-anchor="middle">0.30</text>
<path d="M101.60 474.40v2.3M137.40 474.40v2.3M173.20 474.40v2.3M209.00 474.40v2.3M244.80 474.40v2.3M280.60 474.40v2.3M316.40 474.40v2.3M352.20 474.40v2.3M388.00 474.40v2.3M423.80 474.40v2.3" stroke="#262626" stroke-width="0.55" fill="none"/>
<text x="265.6" y="500.9" text-anchor="middle" style="font-family:'Liberation Sans',Arial,sans-serif;font-size:12.6px;fill:#000;stroke:#000;stroke-width:0.25px">SAOD</text>
</svg></body></html>
